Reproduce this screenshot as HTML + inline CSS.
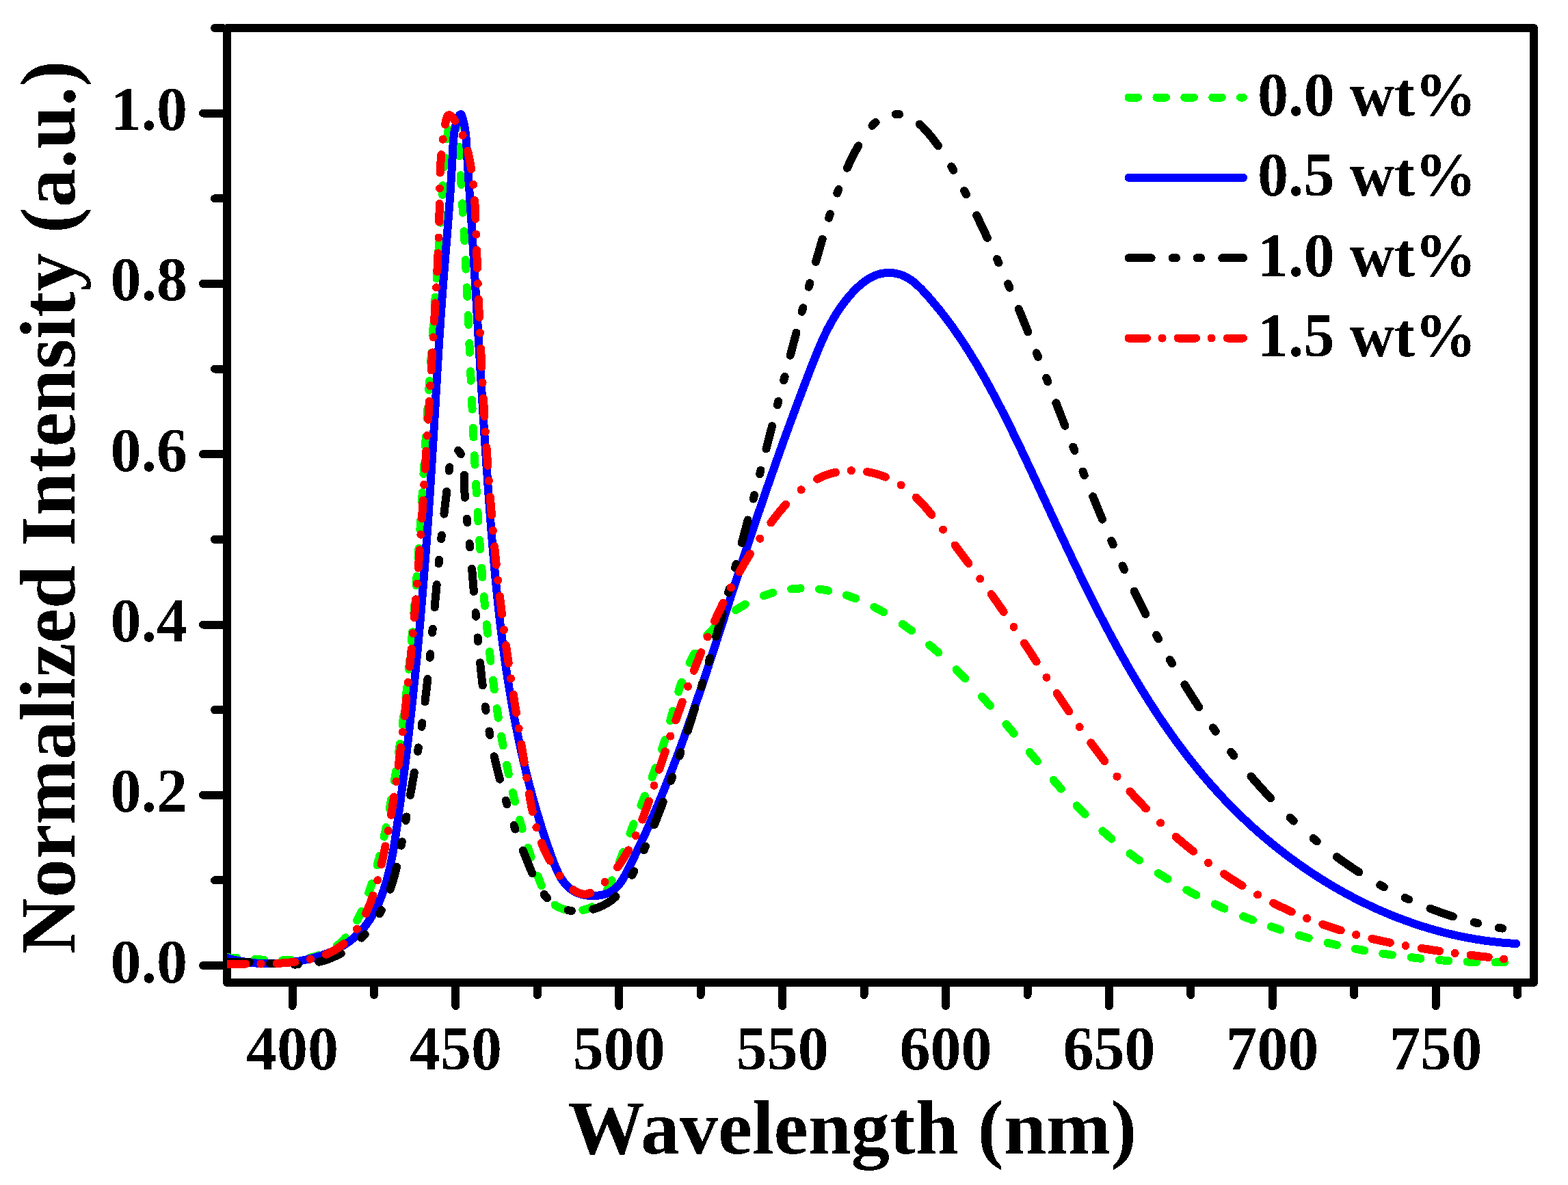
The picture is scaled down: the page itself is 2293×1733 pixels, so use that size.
<!DOCTYPE html>
<html><head><meta charset="utf-8"><title>Normalized Intensity vs Wavelength</title>
<style>html,body{margin:0;padding:0;background:#fff;width:2293px;height:1733px;overflow:hidden}svg{display:block}</style>
</head><body><svg width="2293" height="1733" viewBox="0 0 2293 1733" shape-rendering="crispEdges"><defs><filter id="bin" color-interpolation-filters="sRGB"><feComponentTransfer><feFuncA type="discrete" tableValues="0 1"/></feComponentTransfer></filter></defs><rect x="332.0" y="41.0" width="1911.0" height="1396.0" fill="none" stroke="#000" stroke-width="12" stroke-linejoin="round"/><path d="M326.0 1412.0H297 M326.0 1287.4H314 M326.0 1162.7H297 M326.0 1038.1H314 M326.0 913.5H297 M326.0 788.8H314 M326.0 664.2H297 M326.0 539.5H314 M326.0 414.9H297 M326.0 290.3H314 M326.0 165.6H297 M326.0 41.0H314 M427.6 1443V1471 M547.0 1443V1455 M666.4 1443V1471 M785.9 1443V1455 M905.3 1443V1471 M1024.7 1443V1455 M1144.2 1443V1471 M1263.6 1443V1455 M1383.0 1443V1471 M1502.5 1443V1455 M1621.9 1443V1471 M1741.4 1443V1455 M1860.8 1443V1471 M1980.2 1443V1455 M2099.7 1443V1471 M2219.1 1443V1455" stroke="#000" stroke-width="12" stroke-linecap="round" fill="none"/><g filter="url(#bin)" font-family="Liberation Serif, serif" font-weight="bold" font-size="90"><text x="274" y="1436.5" text-anchor="end">0.0</text><text x="274" y="1187.2" text-anchor="end">0.2</text><text x="274" y="938.0" text-anchor="end">0.4</text><text x="274" y="688.7" text-anchor="end">0.6</text><text x="274" y="439.4" text-anchor="end">0.8</text><text x="274" y="190.1" text-anchor="end">1.0</text><text x="427.6" y="1564" text-anchor="middle">400</text><text x="666.4" y="1564" text-anchor="middle">450</text><text x="905.3" y="1564" text-anchor="middle">500</text><text x="1144.2" y="1564" text-anchor="middle">550</text><text x="1383.0" y="1564" text-anchor="middle">600</text><text x="1621.9" y="1564" text-anchor="middle">650</text><text x="1860.8" y="1564" text-anchor="middle">700</text><text x="2099.7" y="1564" text-anchor="middle">750</text></g><text filter="url(#bin)" x="1246.2" y="1686.7" text-anchor="middle" font-family="Liberation Serif, serif" font-weight="bold" font-size="113">Wavelength (nm)</text><g filter="url(#bin)"><text transform="translate(109 741.8) rotate(-90)" x="0" y="0" text-anchor="middle" font-family="Liberation Serif, serif" font-weight="bold" font-size="113.6">Normalized Intensity (a.u.)</text></g><defs><clipPath id="pc"><rect x="332.0" y="0" width="1911.0" height="1437"/></clipPath></defs><g clip-path="url(#pc)"><path d="M332.9 1400.3L333.9 1400.4L334.9 1400.4L335.9 1400.5L336.9 1400.5L337.9 1400.6L338.9 1400.6L339.9 1400.7L340.9 1400.7L341.9 1400.8L342.9 1400.8L343.9 1400.9L344.9 1400.9L345.9 1401.0L346.2 1401.0M372.9 1402.9L373.8 1403.0L374.8 1403.0L375.8 1403.1L376.8 1403.2L377.8 1403.2L378.8 1403.3L379.8 1403.4L380.8 1403.4L381.8 1403.5L382.8 1403.5L383.8 1403.6L384.8 1403.7L385.8 1403.7L386.1 1403.7M412.8 1404.4L413.8 1404.4L414.8 1404.4L415.8 1404.4L416.8 1404.4L417.8 1404.3L418.8 1404.3L419.8 1404.3L420.8 1404.3L421.8 1404.2L422.7 1404.2L423.7 1404.1L424.7 1404.1L425.7 1404.0L426.1 1404.0M452.8 1400.7L453.5 1400.5L454.5 1400.3L455.4 1400.1L456.4 1399.9L457.4 1399.6L458.4 1399.4L459.3 1399.1L460.3 1398.9L461.3 1398.6L462.2 1398.3L463.2 1398.0L464.1 1397.8L465.1 1397.5L466.0 1397.1L466.1 1397.1M492.7 1383.2L493.3 1382.7L494.1 1382.1L494.8 1381.5L495.6 1380.8L496.4 1380.2L497.1 1379.5L497.8 1378.8L498.6 1378.1L499.3 1377.4L500.0 1376.7L500.7 1376.0L501.4 1375.3L502.1 1374.6L502.8 1373.9L503.5 1373.1L504.1 1372.4L504.8 1371.7L505.1 1371.3M522.1 1346.1L522.1 1346.0L522.6 1345.1L523.1 1344.3L523.5 1343.4L524.0 1342.5L524.4 1341.6L524.9 1340.7L525.3 1339.8L525.8 1338.9L526.2 1338.0L526.6 1337.1L527.0 1336.2L527.5 1335.3L527.9 1334.4L528.3 1333.5L528.5 1333.0M539.2 1305.7L539.3 1305.5L539.6 1304.6L539.9 1303.7L540.2 1302.7L540.6 1301.8L540.9 1300.8L541.2 1299.9L541.5 1298.9L541.8 1298.0L542.1 1297.0L542.5 1296.1L542.8 1295.1L543.1 1294.2L543.4 1293.2L543.7 1292.3L543.7 1292.2M551.6 1265.3L551.9 1264.4L552.1 1263.5L552.4 1262.5L552.6 1261.5L552.9 1260.6L553.2 1259.6L553.4 1258.6L553.7 1257.7L553.9 1256.7L554.2 1255.7L554.4 1254.8L554.7 1253.8L554.9 1252.8L555.2 1251.9L555.2 1251.7M561.7 1223.7L561.7 1223.6L561.9 1222.6L562.1 1221.7L562.4 1220.7L562.6 1219.7L562.8 1218.7L563.0 1217.8L563.2 1216.8L563.4 1215.8L563.6 1214.8L563.8 1213.8L564.0 1212.9L564.2 1211.9L564.4 1210.9L564.6 1210.0M569.8 1182.7L569.8 1182.4L570.0 1181.4L570.2 1180.4L570.4 1179.5L570.6 1178.5L570.7 1177.5L570.9 1176.5L571.1 1175.5L571.3 1174.5L571.4 1173.6L571.6 1172.6L571.8 1171.6L572.0 1170.6L572.1 1169.6L572.2 1169.2M576.8 1141.9L576.9 1141.0L577.1 1140.0L577.3 1139.0L577.4 1138.1L577.6 1137.1L577.7 1136.1L577.9 1135.1L578.0 1134.1L578.2 1133.1L578.4 1132.1L578.5 1131.1L578.7 1130.2L578.8 1129.2L578.9 1128.4M583.0 1101.1L583.1 1100.5L583.3 1099.5L583.4 1098.5L583.5 1097.5L583.7 1096.5L583.8 1095.5L584.0 1094.5L584.1 1093.6L584.2 1092.6L584.4 1091.6L584.5 1090.6L584.7 1089.6L584.8 1088.6L584.9 1087.6L584.9 1087.6M588.6 1060.3L588.6 1059.9L588.8 1058.9L588.9 1057.9L589.0 1056.9L589.1 1055.9L589.3 1054.9L589.4 1053.9L589.5 1052.9L589.6 1051.9L589.8 1050.9L589.9 1049.9L590.0 1048.9L590.1 1048.0L590.3 1047.0L590.3 1046.7M593.5 1019.5L593.6 1019.2L593.7 1018.2L593.8 1017.2L593.9 1016.2L594.0 1015.2L594.1 1014.2L594.2 1013.2L594.3 1012.2L594.5 1011.2L594.6 1010.2L594.7 1009.2L594.8 1008.2L594.9 1007.2L595.0 1006.2L595.0 1005.9M597.9 978.7L598.0 978.4L598.1 977.4L598.2 976.4L598.3 975.4L598.4 974.4L598.5 973.4L598.6 972.4L598.7 971.4L598.8 970.4L598.9 969.4L599.0 968.4L599.1 967.5L599.1 966.5L599.2 965.5L599.3 965.1M601.9 937.9L601.9 937.6L602.0 936.6L602.1 935.6L602.2 934.6L602.2 933.6L602.3 932.6L602.4 931.6L602.5 930.6L602.6 929.6L602.7 928.6L602.8 927.6L602.9 926.6L603.0 925.6L603.0 924.6L603.1 924.3M605.4 897.1L605.4 896.7L605.5 895.7L605.6 894.7L605.7 893.7L605.8 892.8L605.8 891.8L605.9 890.8L606.0 889.8L606.1 888.8L606.2 887.8L606.2 886.8L606.3 885.8L606.4 884.8L606.5 883.8L606.5 883.5M608.6 856.2L608.6 855.9L608.7 854.9L608.8 853.9L608.9 852.9L608.9 851.9L609.0 850.9L609.1 849.9L609.2 848.9L609.2 847.9L609.3 846.9L609.4 845.9L609.4 844.9L609.5 843.9L609.6 842.9L609.6 842.7M611.5 815.4L611.6 815.0L611.6 814.0L611.7 813.0L611.8 812.0L611.9 811.0L611.9 810.0L612.0 809.0L612.1 808.0L612.1 807.0L612.2 806.0L612.3 805.0L612.3 804.0L612.4 803.0L612.5 802.0L612.5 801.9M614.3 774.6L614.3 774.1L614.4 773.1L614.5 772.1L614.5 771.1L614.6 770.1L614.6 769.1L614.7 768.1L614.8 767.1L614.8 766.1L614.9 765.1L615.0 764.1L615.0 763.1L615.1 762.1L615.2 761.1L615.2 761.0M616.9 733.8L616.9 733.1L617.0 732.1L617.1 731.1L617.1 730.2L617.2 729.2L617.2 728.2L617.3 727.2L617.4 726.2L617.4 725.2L617.5 724.2L617.5 723.2L617.6 722.2L617.7 721.2L617.7 720.2M619.4 693.0L619.5 692.2L619.5 691.2L619.6 690.2L619.6 689.2L619.7 688.2L619.8 687.2L619.8 686.2L619.9 685.2L619.9 684.2L620.0 683.2L620.1 682.2L620.1 681.2L620.2 680.2L620.2 679.4M621.9 652.2L622.0 651.3L622.0 650.3L622.1 649.3L622.2 648.3L622.2 647.3L622.3 646.3L622.4 645.3L622.4 644.3L622.5 643.3L622.5 642.3L622.6 641.3L622.7 640.3L622.7 639.3L622.8 638.6M624.5 611.4L624.6 610.4L624.6 609.4L624.7 608.4L624.8 607.4L624.8 606.4L624.9 605.4L624.9 604.4L625.0 603.4L625.1 602.4L625.1 601.4L625.2 600.4L625.3 599.4L625.3 598.4L625.4 597.8M627.2 570.6L627.2 570.5L627.2 569.5L627.3 568.5L627.4 567.5L627.5 566.5L627.5 565.5L627.6 564.5L627.7 563.5L627.7 562.5L627.8 561.5L627.9 560.5L627.9 559.5L628.0 558.5L628.1 557.5L628.1 557.0M630.0 529.7L630.0 529.6L630.0 528.6L630.1 527.6L630.2 526.6L630.3 525.6L630.3 524.6L630.4 523.6L630.5 522.6L630.5 521.6L630.6 520.6L630.7 519.6L630.7 518.6L630.8 517.6L630.9 516.6L630.9 516.2M632.8 488.9L632.8 488.7L632.9 487.7L633.0 486.7L633.0 485.7L633.1 484.7L633.2 483.7L633.2 482.7L633.3 481.7L633.4 480.7L633.5 479.7L633.5 478.7L633.6 477.7L633.7 476.7L633.7 475.7L633.8 475.4M635.7 448.1L635.7 447.8L635.8 446.8L635.8 445.8L635.9 444.8L636.0 443.8L636.1 442.8L636.1 441.8L636.2 440.8L636.3 439.8L636.3 438.8L636.4 437.8L636.5 436.8L636.5 435.8L636.6 434.8L636.6 434.5M638.5 407.3L638.6 406.9L638.6 405.9L638.7 404.9L638.8 403.9L638.8 402.9L638.9 401.9L639.0 400.9L639.0 399.9L639.1 398.9L639.2 397.9L639.3 396.9L639.3 395.9L639.4 394.9L639.5 393.9L639.5 393.7M641.4 366.5L641.4 366.0L641.5 365.0L641.5 364.0L641.6 363.0L641.7 362.0L641.7 361.0L641.8 360.0L641.9 359.0L641.9 358.0L642.0 357.0L642.1 356.0L642.1 355.0L642.2 354.0L642.3 353.0L642.3 352.9M644.1 325.7L644.2 325.1L644.2 324.1L644.3 323.1L644.4 322.1L644.5 321.1L644.5 320.1L644.6 319.1L644.7 318.1L644.7 317.1L644.8 316.1L644.9 315.1L644.9 314.1L645.0 313.1L645.1 312.1M646.9 284.9L646.9 284.1L647.0 283.2L647.1 282.2L647.1 281.2L647.2 280.2L647.3 279.2L647.3 278.2L647.4 277.2L647.5 276.2L647.5 275.2L647.6 274.2L647.7 273.2L647.7 272.2L647.8 271.3M649.7 244.0L649.7 243.2L649.8 242.2L649.9 241.3L650.0 240.3L650.1 239.3L650.1 238.3L650.2 237.3L650.3 236.3L650.4 235.3L650.5 234.3L650.6 233.3L650.7 232.3L650.7 231.3L650.8 230.5M653.8 203.2L653.9 202.5L654.0 201.5L654.2 200.5L654.3 199.5L654.4 198.5L654.6 197.5L654.7 196.5L654.9 195.5L655.0 194.5L655.1 193.5L655.3 192.6L655.4 191.6L655.6 190.6L655.7 189.7M664.9 173.7L665.0 173.8L665.3 174.8L665.6 175.7L665.8 176.7L666.1 177.7L666.3 178.6L666.5 179.6L666.8 180.6L667.0 181.6L667.1 182.6L667.3 183.5L667.5 184.5L667.7 185.5L667.8 186.5L667.9 187.3M670.8 214.5L670.8 215.3L670.9 216.3L671.0 217.3L671.0 218.3L671.1 219.3L671.2 220.3L671.3 221.3L671.3 222.3L671.4 223.3L671.5 224.3L671.5 225.3L671.6 226.3L671.7 227.3L671.7 228.3M673.6 256.3L673.7 257.2L673.7 258.2L673.8 259.2L673.8 260.2L673.9 261.2L674.0 262.2L674.0 263.2L674.1 264.2L674.2 265.2L674.2 266.2L674.3 267.2L674.3 268.2L674.4 269.2L674.5 270.0M676.1 297.4L676.2 298.2L676.2 299.2L676.3 300.2L676.4 301.2L676.4 302.2L676.5 303.2L676.5 304.2L676.6 305.2L676.7 306.2L676.7 307.2L676.8 308.2L676.8 309.1L676.9 310.1L676.9 311.0M678.5 338.3L678.6 339.1L678.6 340.1L678.7 341.1L678.7 342.1L678.8 343.1L678.8 344.1L678.9 345.1L678.9 346.1L679.0 347.1L679.0 348.1L679.1 349.1L679.2 350.1L679.2 351.1L679.3 352.1M680.7 380.1L680.8 381.0L680.8 382.0L680.9 383.0L680.9 384.0L681.0 385.0L681.0 386.0L681.1 387.0L681.1 388.0L681.2 389.0L681.2 390.0L681.3 391.0L681.3 392.0L681.4 393.0L681.4 393.7M682.7 420.3L682.7 421.0L682.8 422.0L682.8 423.0L682.9 424.0L682.9 425.0L683.0 426.0L683.0 427.0L683.0 428.0L683.1 429.0L683.1 430.0L683.2 431.0L683.2 432.0L683.3 433.0L683.3 433.8M684.6 461.1L684.6 462.0L684.6 462.9L684.7 463.9L684.7 464.9L684.8 465.9L684.8 466.9L684.9 467.9L684.9 468.9L684.9 469.9L685.0 470.9L685.0 471.9L685.1 472.9L685.1 473.9L685.2 474.8M686.4 502.1L686.4 502.9L686.4 503.9L686.5 504.9L686.5 505.9L686.6 506.9L686.6 507.9L686.7 508.9L686.7 509.9L686.7 510.9L686.8 511.9L686.8 512.9L686.9 513.9L686.9 514.9L686.9 515.7M688.1 543.1L688.2 543.9L688.2 544.9L688.3 545.9L688.3 546.9L688.3 547.9L688.4 548.9L688.4 549.9L688.5 550.9L688.5 551.9L688.6 552.9L688.6 553.9L688.6 554.9L688.7 555.9L688.7 556.8M690.0 584.8L690.0 585.8L690.1 586.8L690.1 587.8L690.1 588.8L690.2 589.8L690.2 590.8L690.3 591.8L690.3 592.8L690.4 593.8L690.4 594.8L690.5 595.8L690.5 596.8L690.6 597.8L690.6 598.6M691.9 626.0L691.9 626.8L691.9 627.8L692.0 628.8L692.0 629.8L692.1 630.8L692.1 631.8L692.2 632.8L692.2 633.8L692.3 634.8L692.3 635.8L692.4 636.8L692.4 637.8L692.5 638.8L692.5 639.4M693.8 666.1L693.9 666.7L693.9 667.7L694.0 668.7L694.0 669.7L694.1 670.7L694.1 671.7L694.2 672.7L694.2 673.7L694.3 674.7L694.3 675.7L694.4 676.7L694.4 677.7L694.5 678.7L694.5 679.7M696.1 707.7L696.1 708.7L696.2 709.7L696.2 710.7L696.3 711.7L696.3 712.7L696.4 713.7L696.5 714.7L696.5 715.7L696.6 716.7L696.6 717.7L696.7 718.7L696.7 719.7L696.8 720.7L696.8 721.5M698.5 748.8L698.5 749.6L698.6 750.6L698.7 751.6L698.7 752.6L698.8 753.6L698.9 754.6L698.9 755.6L699.0 756.6L699.1 757.6L699.1 758.6L699.2 759.6L699.2 760.6L699.3 761.6L699.4 762.4M701.2 789.7L701.3 790.5L701.3 791.5L701.4 792.5L701.5 793.5L701.5 794.5L701.6 795.5L701.7 796.5L701.8 797.5L701.8 798.5L701.9 799.5L702.0 800.5L702.0 801.5L702.1 802.5L702.2 803.3M704.3 830.6L704.3 831.4L704.4 832.4L704.5 833.4L704.6 834.4L704.6 835.4L704.7 836.4L704.8 837.4L704.9 838.4L705.0 839.4L705.0 840.4L705.1 841.4L705.2 842.4L705.3 843.4L705.4 844.3M707.8 872.3L707.9 873.3L707.9 874.2L708.0 875.2L708.1 876.2L708.2 877.2L708.3 878.2L708.4 879.2L708.5 880.2L708.6 881.2L708.7 882.2L708.8 883.2L708.9 884.2L709.0 885.2L709.0 886.0M711.7 913.3L711.8 914.1L711.9 915.1L712.0 916.1L712.1 917.1L712.2 918.0L712.3 919.0L712.4 920.0L712.5 921.0L712.6 922.0L712.7 923.0L712.8 924.0L712.9 925.0L713.0 926.0L713.1 926.6M716.0 953.2L716.0 953.8L716.1 954.8L716.3 955.8L716.4 956.8L716.5 957.8L716.6 958.8L716.7 959.8L716.8 960.8L716.9 961.8L717.1 962.8L717.2 963.8L717.3 964.8L717.4 965.8L717.5 966.7M721.0 994.6L721.1 995.5L721.2 996.5L721.3 997.5L721.5 998.5L721.6 999.5L721.7 1000.5L721.9 1001.5L722.0 1002.5L722.1 1003.5L722.2 1004.5L722.4 1005.4L722.5 1006.4L722.6 1007.4L722.8 1008.4M726.7 1036.2L726.8 1037.1L727.0 1038.1L727.1 1039.1L727.3 1040.1L727.4 1041.1L727.6 1042.1L727.7 1043.1L727.9 1044.1L728.0 1045.0L728.2 1046.0L728.3 1047.0L728.5 1048.0L728.7 1049.0L728.8 1049.8M733.2 1076.8L733.3 1077.6L733.5 1078.6L733.7 1079.6L733.9 1080.6L734.0 1081.6L734.2 1082.5L734.4 1083.5L734.6 1084.5L734.7 1085.5L734.9 1086.5L735.1 1087.5L735.3 1088.4L735.4 1089.4L735.6 1090.4L735.6 1090.5M741.0 1118.7L741.1 1118.9L741.3 1119.9L741.5 1120.9L741.7 1121.8L741.9 1122.8L742.1 1123.8L742.3 1124.8L742.5 1125.8L742.7 1126.7L742.9 1127.7L743.1 1128.7L743.3 1129.7L743.5 1130.7L743.7 1131.6L743.9 1132.4M749.8 1159.1L750.0 1159.9L750.3 1160.9L750.5 1161.9L750.7 1162.8L751.0 1163.8L751.2 1164.8L751.4 1165.8L751.7 1166.7L751.9 1167.7L752.1 1168.7L752.4 1169.6L752.6 1170.6L752.9 1171.6L753.0 1172.4M760.0 1198.8L760.2 1199.7L760.4 1200.6L760.7 1201.6L761.0 1202.5L761.2 1203.5L761.5 1204.5L761.8 1205.4L762.1 1206.4L762.3 1207.4L762.6 1208.3L762.9 1209.3L763.2 1210.2L763.4 1211.2L763.7 1212.2L763.7 1212.3M772.1 1239.7L772.1 1239.9L772.5 1240.9L772.8 1241.8L773.1 1242.8L773.4 1243.7L773.7 1244.7L774.0 1245.6L774.3 1246.6L774.6 1247.5L774.9 1248.5L775.3 1249.4L775.6 1250.4L775.9 1251.3L776.2 1252.3L776.5 1253.2L776.6 1253.5M786.4 1281.1L786.6 1281.5L786.9 1282.4L787.3 1283.3L787.6 1284.3L788.0 1285.2L788.3 1286.1L788.7 1287.1L789.1 1288.0L789.4 1288.9L789.8 1289.9L790.1 1290.8L790.5 1291.7L790.9 1292.7L791.2 1293.6L791.6 1294.5L791.9 1295.2M811.6 1323.5L811.8 1323.7L812.6 1324.3L813.5 1324.8L814.3 1325.3L815.2 1325.8L816.1 1326.3L817.0 1326.7L817.9 1327.2L818.8 1327.6L819.7 1327.9L820.6 1328.3L821.6 1328.6L822.5 1329.0L823.5 1329.3L824.4 1329.6L825.4 1329.8L825.5 1329.8M852.3 1330.9L853.2 1330.7L854.1 1330.5L855.1 1330.3L856.1 1330.1L857.0 1329.8L858.0 1329.5L859.0 1329.2L859.9 1328.9L860.8 1328.5L861.8 1328.2L862.7 1327.8L863.6 1327.4L864.5 1326.9L865.4 1326.5L865.8 1326.2M888.1 1301.1L888.3 1300.7L888.8 1299.9L889.3 1299.0L889.7 1298.1L890.1 1297.2L890.6 1296.3L891.0 1295.4L891.5 1294.5L891.9 1293.6L892.3 1292.7L892.7 1291.8L893.1 1290.9L893.5 1289.9L894.0 1289.0L894.4 1288.1L894.7 1287.4M906.0 1259.9L906.2 1259.5L906.5 1258.5L906.9 1257.6L907.3 1256.7L907.6 1255.7L908.0 1254.8L908.3 1253.9L908.7 1252.9L909.0 1252.0L909.4 1251.1L909.7 1250.1L910.1 1249.2L910.4 1248.2L910.8 1247.3L911.1 1246.4L911.2 1246.2M921.4 1218.8L921.6 1218.2L921.9 1217.3L922.3 1216.4L922.6 1215.4L923.0 1214.5L923.3 1213.6L923.7 1212.6L924.0 1211.7L924.4 1210.8L924.7 1209.8L925.1 1208.9L925.5 1207.9L925.8 1207.0L926.2 1206.1L926.5 1205.1L926.6 1205.1M937.4 1177.6L937.5 1177.2L937.9 1176.3L938.3 1175.4L938.6 1174.5L939.0 1173.5L939.4 1172.6L939.8 1171.7L940.1 1170.7L940.5 1169.8L940.9 1168.9L941.3 1168.0L941.6 1167.0L942.0 1166.1L942.4 1165.2L942.7 1164.2L942.9 1163.9M953.6 1136.6L953.7 1136.3L954.1 1135.4L954.4 1134.5L954.8 1133.5L955.1 1132.6L955.5 1131.6L955.8 1130.7L956.2 1129.8L956.5 1128.8L956.9 1127.9L957.2 1127.0L957.6 1126.0L957.9 1125.1L958.3 1124.2L958.6 1123.2L958.7 1123.0M968.0 1095.9L968.1 1095.8L968.4 1094.8L968.7 1093.9L969.0 1092.9L969.3 1092.0L969.6 1091.0L969.9 1090.1L970.2 1089.1L970.5 1088.2L970.8 1087.2L971.0 1086.2L971.3 1085.3L971.6 1084.3L971.9 1083.4L972.2 1082.4L972.3 1082.1M980.1 1053.8L980.2 1053.5L980.5 1052.5L980.7 1051.6L981.0 1050.6L981.3 1049.7L981.5 1048.7L981.8 1047.7L982.1 1046.8L982.3 1045.8L982.6 1044.8L982.8 1043.9L983.1 1042.9L983.4 1041.9L983.6 1041.0L983.9 1040.0L984.0 1039.7M992.2 1011.6L992.3 1011.2L992.6 1010.2L992.9 1009.3L993.2 1008.3L993.5 1007.4L993.8 1006.4L994.1 1005.5L994.4 1004.5L994.8 1003.6L995.1 1002.6L995.4 1001.7L995.7 1000.8L996.0 999.8L996.4 998.9L996.7 997.9L996.9 997.5M1008.5 969.2L1008.9 968.4L1009.3 967.5L1009.8 966.6L1010.2 965.7L1010.7 964.8L1011.1 963.9L1011.6 963.0L1012.1 962.1L1012.5 961.2L1013.0 960.3L1013.5 959.5L1014.0 958.6L1014.4 957.7L1014.9 956.8L1015.4 956.0L1015.7 955.6M1033.9 929.5L1034.3 929.0L1035.0 928.2L1035.6 927.5L1036.3 926.7L1036.9 926.0L1037.6 925.2L1038.3 924.5L1039.0 923.7L1039.6 923.0L1040.3 922.3L1041.0 921.5L1041.7 920.8L1042.4 920.1L1043.1 919.4L1043.8 918.7L1044.5 917.9L1045.2 917.2L1045.9 916.5L1046.6 915.8L1046.7 915.7M1075.8 892.4L1076.2 892.1L1077.1 891.5L1077.9 891.0L1078.7 890.5L1079.6 889.9L1080.4 889.4L1081.3 888.9L1082.1 888.3L1083.0 887.8L1083.8 887.3L1084.7 886.8L1085.6 886.3L1086.4 885.8L1087.3 885.3L1088.2 884.8L1089.0 884.3L1089.7 883.9M1116.9 871.3L1117.1 871.3L1118.1 870.9L1119.0 870.6L1119.9 870.2L1120.9 869.9L1121.8 869.6L1122.8 869.3L1123.7 868.9L1124.7 868.6L1125.6 868.3L1126.6 868.0L1127.5 867.7L1128.5 867.4L1129.5 867.2L1130.4 866.9M1157.1 861.5L1157.8 861.4L1158.8 861.3L1159.8 861.2L1160.8 861.1L1161.8 861.0L1162.8 860.9L1163.8 860.8L1164.8 860.8L1165.8 860.7L1166.8 860.6L1167.8 860.6L1168.8 860.5L1169.8 860.5L1170.6 860.4M1197.9 861.6L1198.7 861.7L1199.7 861.8L1200.7 862.0L1201.7 862.1L1202.7 862.2L1203.7 862.4L1204.7 862.5L1205.7 862.7L1206.7 862.9L1207.6 863.0L1208.6 863.2L1209.6 863.4L1210.6 863.6L1211.3 863.7M1237.7 870.5L1238.6 870.8L1239.6 871.2L1240.5 871.5L1241.5 871.8L1242.4 872.1L1243.4 872.5L1244.3 872.8L1245.3 873.1L1246.2 873.5L1247.1 873.8L1248.1 874.2L1249.0 874.5L1249.9 874.9L1250.9 875.2L1251.1 875.3M1278.4 887.7L1279.1 888.1L1280.0 888.5L1280.8 889.0L1281.7 889.5L1282.6 889.9L1283.5 890.4L1284.4 890.9L1285.3 891.4L1286.1 891.8L1287.0 892.3L1287.9 892.8L1288.8 893.3L1289.6 893.8L1290.5 894.3L1291.4 894.8L1292.1 895.2M1319.7 912.7L1320.1 913.0L1320.9 913.5L1321.7 914.1L1322.5 914.7L1323.3 915.3L1324.2 915.9L1325.0 916.4L1325.8 917.0L1326.6 917.6L1327.4 918.2L1328.2 918.8L1329.0 919.4L1329.8 919.9L1330.6 920.5L1331.5 921.1L1332.3 921.7L1333.1 922.3L1333.1 922.4M1359.2 943.2L1359.6 943.5L1360.4 944.2L1361.2 944.8L1361.9 945.5L1362.7 946.1L1363.4 946.8L1364.2 947.4L1364.9 948.1L1365.7 948.7L1366.5 949.4L1367.2 950.0L1368.0 950.7L1368.7 951.4L1369.5 952.0L1370.2 952.7L1371.0 953.4L1371.7 954.0L1372.2 954.5M1398.5 979.3L1398.6 979.4L1399.3 980.1L1400.0 980.8L1400.8 981.5L1401.5 982.2L1402.2 982.9L1402.9 983.6L1403.6 984.3L1404.3 985.1L1405.0 985.8L1405.7 986.5L1406.4 987.2L1407.1 987.9L1407.8 988.6L1408.5 989.3L1409.2 990.0L1409.9 990.8L1410.6 991.5L1411.3 992.2L1411.4 992.3M1436.0 1018.7L1436.5 1019.3L1437.2 1020.0L1437.8 1020.7L1438.5 1021.5L1439.2 1022.2L1439.9 1023.0L1440.5 1023.7L1441.2 1024.5L1441.9 1025.2L1442.5 1026.0L1443.2 1026.7L1443.8 1027.5L1444.5 1028.2L1445.2 1029.0L1445.8 1029.7L1446.5 1030.5L1447.2 1031.2L1447.8 1032.0L1447.9 1032.0M1471.4 1059.3L1472.0 1060.0L1472.6 1060.7L1473.3 1061.5L1473.9 1062.3L1474.6 1063.0L1475.2 1063.8L1475.9 1064.6L1476.5 1065.3L1477.2 1066.1L1477.8 1066.8L1478.4 1067.6L1479.1 1068.4L1479.7 1069.1L1480.4 1069.9L1481.0 1070.7L1481.7 1071.4L1482.3 1072.2L1482.8 1072.8M1505.6 1099.9L1506.1 1100.5L1506.7 1101.3L1507.4 1102.1L1508.0 1102.8L1508.7 1103.6L1509.3 1104.4L1510.0 1105.1L1510.6 1105.9L1511.2 1106.7L1511.9 1107.4L1512.5 1108.2L1513.2 1109.0L1513.8 1109.7L1514.5 1110.5L1515.1 1111.2L1515.8 1112.0L1516.4 1112.8L1517.0 1113.5M1540.5 1140.8L1540.5 1140.9L1541.2 1141.6L1541.8 1142.4L1542.5 1143.1L1543.1 1143.9L1543.8 1144.6L1544.5 1145.4L1545.1 1146.1L1545.8 1146.9L1546.4 1147.6L1547.1 1148.4L1547.8 1149.1L1548.4 1149.8L1549.1 1150.6L1549.8 1151.3L1550.4 1152.1L1551.1 1152.8L1551.8 1153.6L1551.9 1153.7M1574.5 1178.2L1574.8 1178.5L1575.5 1179.3L1576.2 1180.0L1576.9 1180.7L1577.6 1181.4L1578.3 1182.1L1579.0 1182.9L1579.7 1183.6L1580.4 1184.3L1581.1 1185.0L1581.8 1185.7L1582.5 1186.4L1583.2 1187.2L1583.9 1187.9L1584.6 1188.6L1585.3 1189.3L1586.0 1190.0L1586.7 1190.7M1612.4 1215.2L1612.8 1215.5L1613.5 1216.2L1614.3 1216.9L1615.0 1217.5L1615.8 1218.2L1616.5 1218.9L1617.3 1219.5L1618.0 1220.2L1618.8 1220.9L1619.5 1221.5L1620.3 1222.2L1621.0 1222.8L1621.8 1223.5L1622.5 1224.1L1623.3 1224.8L1624.0 1225.4L1624.8 1226.1L1625.5 1226.7M1652.5 1248.4L1652.9 1248.6L1653.7 1249.2L1654.5 1249.8L1655.3 1250.4L1656.1 1251.0L1656.9 1251.6L1657.7 1252.2L1658.5 1252.8L1659.3 1253.4L1660.1 1254.0L1660.9 1254.6L1661.7 1255.2L1662.5 1255.8L1663.3 1256.4L1664.1 1256.9L1664.9 1257.5L1665.8 1258.1L1666.2 1258.4M1693.8 1277.1L1693.9 1277.1L1694.8 1277.7L1695.6 1278.2L1696.5 1278.7L1697.3 1279.3L1698.2 1279.8L1699.0 1280.3L1699.9 1280.9L1700.7 1281.4L1701.5 1281.9L1702.4 1282.5L1703.3 1283.0L1704.1 1283.5L1705.0 1284.0L1705.8 1284.5L1706.7 1285.1L1707.5 1285.6L1707.6 1285.6M1735.4 1301.6L1736.2 1302.0L1737.0 1302.5L1737.9 1302.9L1738.8 1303.4L1739.7 1303.9L1740.6 1304.4L1741.4 1304.8L1742.3 1305.3L1743.2 1305.8L1744.1 1306.2L1745.0 1306.7L1745.9 1307.1L1746.8 1307.6L1747.6 1308.1L1748.5 1308.5L1749.2 1308.9M1776.8 1322.4L1777.3 1322.6L1778.2 1323.0L1779.1 1323.4L1780.0 1323.9L1780.9 1324.3L1781.8 1324.7L1782.7 1325.1L1783.6 1325.5L1784.5 1325.9L1785.4 1326.3L1786.4 1326.8L1787.3 1327.2L1788.2 1327.6L1789.1 1328.0L1790.0 1328.4L1790.5 1328.6M1818.2 1340.2L1818.6 1340.4L1819.5 1340.7L1820.5 1341.1L1821.4 1341.5L1822.3 1341.8L1823.3 1342.2L1824.2 1342.6L1825.1 1342.9L1826.1 1343.3L1827.0 1343.6L1827.9 1344.0L1828.9 1344.3L1829.8 1344.7L1830.7 1345.1L1831.7 1345.4L1831.9 1345.5M1858.9 1355.1L1859.0 1355.2L1859.9 1355.5L1860.9 1355.8L1861.8 1356.1L1862.8 1356.5L1863.7 1356.8L1864.7 1357.1L1865.6 1357.4L1866.6 1357.7L1867.5 1358.0L1868.5 1358.3L1869.4 1358.6L1870.4 1359.0L1871.3 1359.3L1872.3 1359.6L1872.4 1359.6M1899.9 1368.0L1900.0 1368.0L1901.0 1368.3L1901.9 1368.5L1902.9 1368.8L1903.9 1369.1L1904.8 1369.4L1905.8 1369.6L1906.7 1369.9L1907.7 1370.2L1908.7 1370.4L1909.6 1370.7L1910.6 1371.0L1911.6 1371.2L1912.5 1371.5L1913.5 1371.7L1913.7 1371.8M1941.5 1378.9L1941.6 1378.9L1942.6 1379.1L1943.5 1379.3L1944.5 1379.6L1945.5 1379.8L1946.5 1380.0L1947.4 1380.3L1948.4 1380.5L1949.4 1380.7L1950.4 1380.9L1951.3 1381.2L1952.3 1381.4L1953.3 1381.6L1954.3 1381.8L1955.1 1382.0M1981.9 1387.6L1982.7 1387.7L1983.6 1387.9L1984.6 1388.1L1985.6 1388.3L1986.6 1388.5L1987.6 1388.7L1988.5 1388.9L1989.5 1389.1L1990.5 1389.2L1991.5 1389.4L1992.5 1389.6L1993.5 1389.8L1994.4 1390.0L1995.3 1390.1M2022.3 1394.6L2023.0 1394.8L2024.0 1394.9L2025.0 1395.1L2026.0 1395.2L2027.0 1395.4L2028.0 1395.5L2029.0 1395.6L2030.0 1395.8L2031.0 1395.9L2032.0 1396.1L2032.9 1396.2L2033.9 1396.4L2034.9 1396.5L2035.9 1396.6M2063.7 1400.2L2064.7 1400.3L2065.7 1400.4L2066.7 1400.5L2067.7 1400.6L2068.7 1400.7L2069.6 1400.9L2070.6 1401.0L2071.6 1401.1L2072.6 1401.2L2073.6 1401.3L2074.6 1401.4L2075.6 1401.5L2076.6 1401.6L2077.4 1401.7M2104.7 1404.1L2105.5 1404.2L2106.5 1404.2L2107.5 1404.3L2108.5 1404.4L2109.5 1404.5L2110.5 1404.5L2111.5 1404.6L2112.5 1404.7L2113.5 1404.7L2114.5 1404.8L2115.5 1404.9L2116.5 1404.9L2117.5 1405.0L2118.3 1405.1M2145.6 1406.5L2146.4 1406.5L2147.4 1406.6L2148.4 1406.6L2149.4 1406.6L2150.4 1406.7L2151.4 1406.7L2152.4 1406.7L2153.4 1406.8L2154.4 1406.8L2155.4 1406.8L2156.4 1406.9L2157.4 1406.9L2158.4 1406.9L2159.2 1406.9M2186.6 1407.4L2187.4 1407.4L2188.4 1407.4L2189.4 1407.4L2190.4 1407.4L2191.4 1407.4L2192.4 1407.4L2193.4 1407.4L2194.4 1407.4L2195.4 1407.3L2196.4 1407.3L2197.4 1407.3L2198.4 1407.3L2199.4 1407.3L2200.2 1407.3" fill="none" stroke="#00ff00" stroke-width="12" stroke-linecap="round" stroke-linejoin="round"/><path d="M333.0 1401.2L334.9 1401.8L336.8 1402.3L338.8 1402.9L340.7 1403.3L342.6 1403.8L344.6 1404.2L346.5 1404.7L348.5 1405.1L350.5 1405.4L352.4 1405.8L354.4 1406.1L356.4 1406.4L358.4 1406.7L360.3 1407.0L362.3 1407.3L364.3 1407.5L366.3 1407.7L368.3 1407.9L370.3 1408.1L372.3 1408.3L374.3 1408.5L376.3 1408.6L378.3 1408.7L380.3 1408.8L382.3 1408.9L384.2 1409.0L386.2 1409.1L388.2 1409.1L390.2 1409.2L392.2 1409.2L394.2 1409.2L396.2 1409.2L398.2 1409.1L400.2 1409.1L402.2 1409.0L404.2 1408.9L406.2 1408.9L408.2 1408.8L410.2 1408.6L412.2 1408.5L414.2 1408.3L416.2 1408.2L418.2 1408.0L420.2 1407.8L422.2 1407.6L424.2 1407.4L426.2 1407.1L428.1 1406.9L430.1 1406.6L432.1 1406.3L434.1 1406.0L436.1 1405.7L438.0 1405.4L440.0 1405.0L442.0 1404.6L443.9 1404.3L445.9 1403.9L447.8 1403.4L449.8 1403.0L451.7 1402.6L453.7 1402.1L455.6 1401.6L457.6 1401.1L459.5 1400.6L461.4 1400.0L463.3 1399.5L465.3 1398.9L467.2 1398.3L469.1 1397.7L471.0 1397.1L472.9 1396.4L474.7 1395.7L476.6 1395.0L478.5 1394.3L480.3 1393.6L482.2 1392.8L484.0 1392.0L485.9 1391.2L487.7 1390.4L489.5 1389.5L491.3 1388.7L493.1 1387.8L494.8 1386.8L496.6 1385.9L498.4 1384.9L500.1 1383.9L501.8 1382.9L503.5 1381.9L505.2 1380.8L506.9 1379.7L508.5 1378.5L510.1 1377.4L511.7 1376.2L513.3 1375.0L514.9 1373.7L516.4 1372.5L518.0 1371.2L519.5 1369.8L520.9 1368.5L522.4 1367.1L523.8 1365.7L525.2 1364.3L526.6 1362.9L528.0 1361.4L529.3 1359.9L530.6 1358.4L531.9 1356.9L533.2 1355.3L534.4 1353.7L535.6 1352.2L536.8 1350.6L538.0 1348.9L539.1 1347.3L540.3 1345.6L541.4 1344.0L542.4 1342.3L543.5 1340.6L544.5 1338.9L545.5 1337.1L546.5 1335.4L547.5 1333.6L548.4 1331.9L549.3 1330.1L550.2 1328.3L551.1 1326.5L552.0 1324.7L552.8 1322.9L553.6 1321.1L554.4 1319.2L555.2 1317.4L556.0 1315.5L556.7 1313.7L557.5 1311.8L558.2 1310.0L558.9 1308.1L559.6 1306.2L560.2 1304.3L560.9 1302.4L561.5 1300.5L562.1 1298.6L562.7 1296.7L563.3 1294.8L563.9 1292.9L564.5 1291.0L565.0 1289.1L565.6 1287.1L566.1 1285.2L566.6 1283.3L567.1 1281.4L567.6 1279.4L568.1 1277.5L568.6 1275.5L569.1 1273.6L569.5 1271.6L570.0 1269.7L570.4 1267.7L570.8 1265.8L571.3 1263.8L571.7 1261.9L572.1 1259.9L572.5 1258.0L572.9 1256.0L573.2 1254.0L573.6 1252.1L574.0 1250.1L574.3 1248.1L574.7 1246.2L575.0 1244.2L575.4 1242.2L575.7 1240.2L576.0 1238.3L576.4 1236.3L576.7 1234.3L577.0 1232.4L577.3 1230.4L577.6 1228.4L577.9 1226.4L578.2 1224.4L578.5 1222.5L578.8 1220.5L579.1 1218.5L579.4 1216.5L579.7 1214.6L580.0 1212.6L580.2 1210.6L580.5 1208.6L580.8 1206.6L581.1 1204.6L581.4 1202.7L581.6 1200.7L581.9 1198.7L582.2 1196.7L582.4 1194.7L582.7 1192.8L583.0 1190.8L583.3 1188.8L583.5 1186.8L583.8 1184.8L584.1 1182.9L584.3 1180.9L584.6 1178.9L584.9 1176.9L585.1 1174.9L585.4 1172.9L585.7 1171.0L585.9 1169.0L586.2 1167.0L586.4 1165.0L586.7 1163.0L587.0 1161.0L587.2 1159.1L587.5 1157.1L587.7 1155.1L588.0 1153.1L588.3 1151.1L588.5 1149.1L588.8 1147.2L589.0 1145.2L589.3 1143.2L589.5 1141.2L589.8 1139.2L590.0 1137.2L590.3 1135.3L590.5 1133.3L590.8 1131.3L591.0 1129.3L591.3 1127.3L591.5 1125.3L591.8 1123.4L592.0 1121.4L592.3 1119.4L592.5 1117.4L592.8 1115.4L593.0 1113.4L593.2 1111.4L593.5 1109.5L593.7 1107.5L594.0 1105.5L594.2 1103.5L594.5 1101.5L594.7 1099.5L594.9 1097.5L595.2 1095.6L595.4 1093.6L595.6 1091.6L595.9 1089.6L596.1 1087.6L596.3 1085.6L596.6 1083.6L596.8 1081.7L597.0 1079.7L597.3 1077.7L597.5 1075.7L597.7 1073.7L598.0 1071.7L598.2 1069.7L598.4 1067.7L598.6 1065.8L598.9 1063.8L599.1 1061.8L599.3 1059.8L599.5 1057.8L599.8 1055.8L600.0 1053.8L600.2 1051.8L600.4 1049.9L600.6 1047.9L600.9 1045.9L601.1 1043.9L601.3 1041.9L601.5 1039.9L601.7 1037.9L602.0 1035.9L602.2 1034.0L602.4 1032.0L602.6 1030.0L602.8 1028.0L603.0 1026.0L603.2 1024.0L603.5 1022.0L603.7 1020.0L603.9 1018.0L604.1 1016.1L604.3 1014.1L604.5 1012.1L604.7 1010.1L604.9 1008.1L605.1 1006.1L605.3 1004.1L605.5 1002.1L605.7 1000.1L605.9 998.2L606.2 996.2L606.4 994.2L606.6 992.2L606.8 990.2L607.0 988.2L607.2 986.2L607.4 984.2L607.6 982.2L607.8 980.2L608.0 978.3L608.1 976.3L608.3 974.3L608.5 972.3L608.7 970.3L608.9 968.3L609.1 966.3L609.3 964.3L609.5 962.3L609.7 960.3L609.9 958.3L610.1 956.4L610.3 954.4L610.5 952.4L610.7 950.4L610.8 948.4L611.0 946.4L611.2 944.4L611.4 942.4L611.6 940.4L611.8 938.4L612.0 936.4L612.1 934.5L612.3 932.5L612.5 930.5L612.7 928.5L612.9 926.5L613.0 924.5L613.2 922.5L613.4 920.5L613.6 918.5L613.8 916.5L613.9 914.5L614.1 912.5L614.3 910.6L614.5 908.6L614.6 906.6L614.8 904.6L615.0 902.6L615.2 900.6L615.3 898.6L615.5 896.6L615.7 894.6L615.9 892.6L616.0 890.6L616.2 888.6L616.4 886.6L616.5 884.6L616.7 882.7L616.9 880.7L617.0 878.7L617.2 876.7L617.4 874.7L617.5 872.7L617.7 870.7L617.9 868.7L618.0 866.7L618.2 864.7L618.4 862.7L618.5 860.7L618.7 858.7L618.9 856.7L619.0 854.7L619.2 852.8L619.3 850.8L619.5 848.8L619.7 846.8L619.8 844.8L620.0 842.8L620.1 840.8L620.3 838.8L620.4 836.8L620.6 834.8L620.8 832.8L620.9 830.8L621.1 828.8L621.2 826.8L621.4 824.8L621.5 822.8L621.7 820.9L621.8 818.9L622.0 816.9L622.1 814.9L622.3 812.9L622.4 810.9L622.6 808.9L622.7 806.9L622.9 804.9L623.0 802.9L623.2 800.9L623.3 798.9L623.5 796.9L623.6 794.9L623.8 792.9L623.9 790.9L624.1 788.9L624.2 786.9L624.3 785.0L624.5 783.0L624.6 781.0L624.8 779.0L624.9 777.0L625.1 775.0L625.2 773.0L625.3 771.0L625.5 769.0L625.6 767.0L625.8 765.0L625.9 763.0L626.0 761.0L626.2 759.0L626.3 757.0L626.5 755.0L626.6 753.0L626.7 751.0L626.9 749.0L627.0 747.0L627.1 745.1L627.3 743.1L627.4 741.1L627.5 739.1L627.7 737.1L627.8 735.1L627.9 733.1L628.1 731.1L628.2 729.1L628.3 727.1L628.5 725.1L628.6 723.1L628.7 721.1L628.9 719.1L629.0 717.1L629.1 715.1L629.3 713.1L629.4 711.1L629.5 709.1L629.7 707.1L629.8 705.1L629.9 703.1L630.0 701.1L630.2 699.2L630.3 697.2L630.4 695.2L630.5 693.2L630.7 691.2L630.8 689.2L630.9 687.2L631.0 685.2L631.2 683.2L631.3 681.2L631.4 679.2L631.5 677.2L631.7 675.2L631.8 673.2L631.9 671.2L632.0 669.2L632.2 667.2L632.3 665.2L632.4 663.2L632.5 661.2L632.7 659.2L632.8 657.2L632.9 655.2L633.0 653.2L633.1 651.2L633.3 649.2L633.4 647.3L633.5 645.3L633.6 643.3L633.7 641.3L633.9 639.3L634.0 637.3L634.1 635.3L634.2 633.3L634.3 631.3L634.5 629.3L634.6 627.3L634.7 625.3L634.8 623.3L634.9 621.3L635.0 619.3L635.2 617.3L635.3 615.3L635.4 613.3L635.5 611.3L635.6 609.3L635.8 607.3L635.9 605.3L636.0 603.3L636.1 601.3L636.2 599.3L636.3 597.3L636.5 595.3L636.6 593.3L636.7 591.3L636.8 589.4L636.9 587.4L637.0 585.4L637.2 583.4L637.3 581.4L637.4 579.4L637.5 577.4L637.6 575.4L637.7 573.4L637.9 571.4L638.0 569.4L638.1 567.4L638.2 565.4L638.3 563.4L638.4 561.4L638.6 559.4L638.7 557.4L638.8 555.4L638.9 553.4L639.0 551.4L639.1 549.4L639.3 547.4L639.4 545.4L639.5 543.4L639.6 541.4L639.7 539.4L639.9 537.4L640.0 535.4L640.1 533.4L640.2 531.5L640.3 529.5L640.5 527.5L640.6 525.5L640.7 523.5L640.8 521.5L640.9 519.5L641.1 517.5L641.2 515.5L641.3 513.5L641.4 511.5L641.5 509.5L641.7 507.5L641.8 505.5L641.9 503.5L642.0 501.5L642.2 499.5L642.3 497.5L642.4 495.5L642.5 493.5L642.7 491.5L642.8 489.5L642.9 487.5L643.1 485.5L643.2 483.5L643.3 481.5L643.5 479.6L643.6 477.6L643.7 475.6L643.8 473.6L644.0 471.6L644.1 469.6L644.2 467.6L644.4 465.6L644.5 463.6L644.7 461.6L644.8 459.6L644.9 457.6L645.1 455.6L645.2 453.6L645.4 451.6L645.5 449.6L645.6 447.6L645.8 445.6L645.9 443.6L646.1 441.6L646.2 439.6L646.4 437.7L646.5 435.7L646.7 433.7L646.8 431.7L646.9 429.7L647.1 427.7L647.3 425.7L647.4 423.7L647.6 421.7L647.7 419.7L647.9 417.7L648.0 415.7L648.2 413.7L648.3 411.7L648.5 409.7L648.6 407.7L648.8 405.7L649.0 403.8L649.1 401.8L649.3 399.8L649.4 397.8L649.6 395.8L649.7 393.8L649.9 391.8L650.1 389.8L650.2 387.8L650.4 385.8L650.6 383.8L650.7 381.8L650.9 379.8L651.0 377.8L651.2 375.8L651.4 373.8L651.5 371.9L651.7 369.9L651.8 367.9L652.0 365.9L652.2 363.9L652.3 361.9L652.5 359.9L652.6 357.9L652.8 355.9L653.0 353.9L653.1 351.9L653.3 349.9L653.5 347.9L653.6 345.9L653.8 343.9L653.9 342.0L654.1 340.0L654.3 338.0L654.4 336.0L654.6 334.0L654.7 332.0L654.9 330.0L655.0 328.0L655.2 326.0L655.4 324.0L655.5 322.0L655.7 320.0L655.8 318.0L656.0 316.0L656.1 314.0L656.3 312.0L656.4 310.1L656.6 308.1L656.7 306.1L656.9 304.1L657.0 302.1L657.2 300.1L657.3 298.1L657.5 296.1L657.6 294.1L657.8 292.1L657.9 290.1L658.0 288.1L658.2 286.1L658.3 284.1L658.5 282.1L658.6 280.1L658.7 278.1L658.9 276.1L659.0 274.1L659.1 272.1L659.3 270.2L659.4 268.2L659.5 266.2L659.7 264.2L659.8 262.2L659.9 260.2L660.0 258.2L660.2 256.2L660.3 254.2L660.4 252.2L660.5 250.2L660.6 248.2L660.8 246.2L660.9 244.2L661.0 242.2L661.1 240.2L661.2 238.2L661.3 236.2L661.4 234.2L661.5 232.2L661.6 230.2L661.7 228.2L661.8 226.2L661.9 224.2L662.0 222.2L662.1 220.2L662.2 218.2L662.3 216.2L662.4 214.2L662.5 212.2L662.7 210.2L662.8 208.3L662.9 206.3L663.1 204.3L663.3 202.3L663.5 200.3L663.7 198.3L664.0 196.3L664.2 194.3L664.5 192.4L664.9 190.4L665.3 188.4L665.7 186.5L666.1 184.5L666.6 182.6L667.2 180.7L667.8 178.7L668.4 176.8L669.1 175.0L669.8 173.1L670.6 171.3L671.4 169.4L672.4 167.7L674.1 167.1L675.1 168.7L675.8 170.6L676.4 172.5L677.0 174.4L677.5 176.4L678.0 178.3L678.4 180.3L678.8 182.2L679.2 184.2L679.6 186.1L679.9 188.1L680.2 190.1L680.5 192.1L680.8 194.1L681.0 196.0L681.2 198.0L681.4 200.0L681.6 202.0L681.7 204.0L681.9 206.0L682.0 208.0L682.2 210.0L682.3 212.0L682.4 214.0L682.5 216.0L682.6 218.0L682.8 220.0L682.9 222.0L683.0 224.0L683.1 226.0L683.2 228.0L683.3 230.0L683.4 232.0L683.5 234.0L683.7 236.0L683.8 237.9L683.9 239.9L684.0 241.9L684.1 243.9L684.3 245.9L684.4 247.9L684.5 249.9L684.6 251.9L684.8 253.9L684.9 255.9L685.0 257.9L685.1 259.9L685.3 261.9L685.4 263.9L685.5 265.9L685.7 267.9L685.8 269.9L685.9 271.9L686.1 273.9L686.2 275.9L686.3 277.9L686.5 279.9L686.6 281.9L686.7 283.9L686.9 285.9L687.0 287.8L687.1 289.8L687.3 291.8L687.4 293.8L687.5 295.8L687.6 297.8L687.8 299.8L687.9 301.8L688.0 303.8L688.2 305.8L688.3 307.8L688.4 309.8L688.6 311.8L688.7 313.8L688.8 315.8L689.0 317.8L689.1 319.8L689.2 321.8L689.3 323.8L689.5 325.8L689.6 327.8L689.7 329.8L689.8 331.8L690.0 333.7L690.1 335.7L690.2 337.7L690.4 339.7L690.5 341.7L690.6 343.7L690.7 345.7L690.9 347.7L691.0 349.7L691.1 351.7L691.2 353.7L691.4 355.7L691.5 357.7L691.6 359.7L691.7 361.7L691.9 363.7L692.0 365.7L692.1 367.7L692.2 369.7L692.3 371.7L692.5 373.7L692.6 375.7L692.7 377.7L692.8 379.7L693.0 381.7L693.1 383.7L693.2 385.6L693.3 387.6L693.4 389.6L693.6 391.6L693.7 393.6L693.8 395.6L693.9 397.6L694.1 399.6L694.2 401.6L694.3 403.6L694.4 405.6L694.5 407.6L694.7 409.6L694.8 411.6L694.9 413.6L695.0 415.6L695.1 417.6L695.3 419.6L695.4 421.6L695.5 423.6L695.6 425.6L695.7 427.6L695.9 429.6L696.0 431.6L696.1 433.6L696.2 435.6L696.3 437.6L696.5 439.6L696.6 441.5L696.7 443.5L696.8 445.5L696.9 447.5L697.0 449.5L697.2 451.5L697.3 453.5L697.4 455.5L697.5 457.5L697.6 459.5L697.8 461.5L697.9 463.5L698.0 465.5L698.1 467.5L698.2 469.5L698.4 471.5L698.5 473.5L698.6 475.5L698.7 477.5L698.8 479.5L699.0 481.5L699.1 483.5L699.2 485.5L699.3 487.5L699.4 489.5L699.5 491.5L699.7 493.5L699.8 495.5L699.9 497.4L700.0 499.4L700.1 501.4L700.3 503.4L700.4 505.4L700.5 507.4L700.6 509.4L700.7 511.4L700.9 513.4L701.0 515.4L701.1 517.4L701.2 519.4L701.3 521.4L701.5 523.4L701.6 525.4L701.7 527.4L701.8 529.4L701.9 531.4L702.1 533.4L702.2 535.4L702.3 537.4L702.4 539.4L702.5 541.4L702.7 543.4L702.8 545.4L702.9 547.4L703.0 549.4L703.1 551.4L703.3 553.3L703.4 555.3L703.5 557.3L703.6 559.3L703.8 561.3L703.9 563.3L704.0 565.3L704.1 567.3L704.2 569.3L704.4 571.3L704.5 573.3L704.6 575.3L704.7 577.3L704.9 579.3L705.0 581.3L705.1 583.3L705.2 585.3L705.4 587.3L705.5 589.3L705.6 591.3L705.7 593.3L705.9 595.3L706.0 597.3L706.1 599.3L706.2 601.3L706.4 603.3L706.5 605.2L706.6 607.2L706.7 609.2L706.9 611.2L707.0 613.2L707.1 615.2L707.3 617.2L707.4 619.2L707.5 621.2L707.6 623.2L707.8 625.2L707.9 627.2L708.0 629.2L708.2 631.2L708.3 633.2L708.4 635.2L708.5 637.2L708.7 639.2L708.8 641.2L708.9 643.2L709.1 645.2L709.2 647.2L709.3 649.2L709.5 651.2L709.6 653.1L709.7 655.1L709.9 657.1L710.0 659.1L710.1 661.1L710.3 663.1L710.4 665.1L710.5 667.1L710.7 669.1L710.8 671.1L710.9 673.1L711.1 675.1L711.2 677.1L711.3 679.1L711.5 681.1L711.6 683.1L711.8 685.1L711.9 687.1L712.0 689.1L712.2 691.1L712.3 693.1L712.5 695.0L712.6 697.0L712.7 699.0L712.9 701.0L713.0 703.0L713.2 705.0L713.3 707.0L713.4 709.0L713.6 711.0L713.7 713.0L713.9 715.0L714.0 717.0L714.2 719.0L714.3 721.0L714.4 723.0L714.6 725.0L714.7 727.0L714.9 729.0L715.0 731.0L715.2 733.0L715.3 734.9L715.5 736.9L715.6 738.9L715.8 740.9L715.9 742.9L716.1 744.9L716.2 746.9L716.4 748.9L716.5 750.9L716.7 752.9L716.8 754.9L717.0 756.9L717.1 758.9L717.3 760.9L717.4 762.9L717.6 764.9L717.8 766.9L717.9 768.8L718.1 770.8L718.2 772.8L718.4 774.8L718.5 776.8L718.7 778.8L718.9 780.8L719.0 782.8L719.2 784.8L719.3 786.8L719.5 788.8L719.7 790.8L719.8 792.8L720.0 794.8L720.2 796.8L720.3 798.7L720.5 800.7L720.7 802.7L720.8 804.7L721.0 806.7L721.2 808.7L721.4 810.7L721.5 812.7L721.7 814.7L721.9 816.7L722.0 818.7L722.2 820.7L722.4 822.7L722.6 824.7L722.8 826.6L722.9 828.6L723.1 830.6L723.3 832.6L723.5 834.6L723.7 836.6L723.9 838.6L724.0 840.6L724.2 842.6L724.4 844.6L724.6 846.6L724.8 848.5L725.0 850.5L725.2 852.5L725.4 854.5L725.6 856.5L725.8 858.5L726.0 860.5L726.2 862.5L726.4 864.5L726.6 866.5L726.8 868.5L727.0 870.4L727.2 872.4L727.4 874.4L727.6 876.4L727.8 878.4L728.0 880.4L728.2 882.4L728.4 884.4L728.6 886.4L728.9 888.3L729.1 890.3L729.3 892.3L729.5 894.3L729.7 896.3L730.0 898.3L730.2 900.3L730.4 902.3L730.6 904.2L730.9 906.2L731.1 908.2L731.3 910.2L731.5 912.2L731.8 914.2L732.0 916.2L732.3 918.1L732.5 920.1L732.7 922.1L733.0 924.1L733.2 926.1L733.5 928.1L733.7 930.1L734.0 932.0L734.2 934.0L734.5 936.0L734.7 938.0L735.0 940.0L735.2 942.0L735.5 943.9L735.7 945.9L736.0 947.9L736.3 949.9L736.5 951.9L736.8 953.9L737.1 955.8L737.3 957.8L737.6 959.8L737.9 961.8L738.2 963.8L738.4 965.7L738.7 967.7L739.0 969.7L739.3 971.7L739.6 973.7L739.9 975.6L740.2 977.6L740.4 979.6L740.7 981.6L741.0 983.6L741.3 985.5L741.6 987.5L741.9 989.5L742.2 991.5L742.5 993.4L742.9 995.4L743.2 997.4L743.5 999.4L743.8 1001.3L744.1 1003.3L744.4 1005.3L744.7 1007.3L745.1 1009.2L745.4 1011.2L745.7 1013.2L746.0 1015.2L746.4 1017.1L746.7 1019.1L747.0 1021.1L747.4 1023.1L747.7 1025.0L748.1 1027.0L748.4 1029.0L748.8 1030.9L749.1 1032.9L749.5 1034.9L749.8 1036.8L750.2 1038.8L750.5 1040.8L750.9 1042.7L751.2 1044.7L751.6 1046.7L752.0 1048.6L752.3 1050.6L752.7 1052.6L753.1 1054.5L753.5 1056.5L753.9 1058.5L754.2 1060.4L754.6 1062.4L755.0 1064.4L755.4 1066.3L755.8 1068.3L756.2 1070.2L756.6 1072.2L757.0 1074.2L757.4 1076.1L757.8 1078.1L758.2 1080.0L758.6 1082.0L759.0 1083.9L759.4 1085.9L759.8 1087.9L760.3 1089.8L760.7 1091.8L761.1 1093.7L761.5 1095.7L762.0 1097.6L762.4 1099.6L762.8 1101.5L763.3 1103.5L763.7 1105.4L764.2 1107.4L764.6 1109.3L765.1 1111.3L765.5 1113.2L766.0 1115.2L766.4 1117.1L766.9 1119.1L767.4 1121.0L767.8 1123.0L768.3 1124.9L768.8 1126.9L769.2 1128.8L769.7 1130.7L770.2 1132.7L770.7 1134.6L771.2 1136.6L771.7 1138.5L772.2 1140.4L772.7 1142.4L773.2 1144.3L773.7 1146.2L774.2 1148.2L774.7 1150.1L775.2 1152.0L775.7 1154.0L776.2 1155.9L776.7 1157.8L777.2 1159.8L777.8 1161.7L778.3 1163.6L778.8 1165.6L779.4 1167.5L779.9 1169.4L780.4 1171.3L781.0 1173.3L781.5 1175.2L782.1 1177.1L782.6 1179.0L783.2 1181.0L783.8 1182.9L784.3 1184.8L784.9 1186.7L785.5 1188.6L786.0 1190.5L786.6 1192.5L787.2 1194.4L787.8 1196.3L788.3 1198.2L788.9 1200.1L789.5 1202.0L790.1 1203.9L790.7 1205.8L791.3 1207.8L791.9 1209.7L792.5 1211.6L793.1 1213.5L793.8 1215.4L794.4 1217.3L795.0 1219.2L795.6 1221.1L796.2 1223.0L796.9 1224.9L797.5 1226.8L798.2 1228.7L798.8 1230.6L799.4 1232.5L800.1 1234.3L800.7 1236.2L801.4 1238.1L802.0 1240.0L802.7 1241.9L803.4 1243.8L804.0 1245.7L804.7 1247.6L805.4 1249.4L806.1 1251.3L806.7 1253.2L807.4 1255.1L808.1 1257.0L808.8 1258.8L809.5 1260.7L810.2 1262.6L811.0 1264.4L811.7 1266.3L812.5 1268.1L813.3 1270.0L814.1 1271.8L814.9 1273.6L815.7 1275.4L816.6 1277.2L817.5 1279.0L818.5 1280.8L819.5 1282.5L820.5 1284.2L821.6 1285.9L822.7 1287.6L823.9 1289.2L825.1 1290.8L826.3 1292.4L827.6 1293.9L829.0 1295.3L830.4 1296.7L831.9 1298.1L833.4 1299.4L835.0 1300.6L836.6 1301.7L838.3 1302.8L840.1 1303.8L841.8 1304.8L843.6 1305.6L845.5 1306.4L847.4 1307.1L849.3 1307.7L851.2 1308.2L853.1 1308.7L855.1 1309.0L857.1 1309.4L859.1 1309.6L861.1 1309.8L863.0 1310.0L865.0 1310.1L867.0 1310.1L869.0 1310.0L871.0 1310.0L873.0 1309.8L875.0 1309.6L877.0 1309.3L879.0 1309.0L880.9 1308.6L882.9 1308.1L884.8 1307.5L886.7 1306.9L888.6 1306.2L890.4 1305.4L892.2 1304.5L893.9 1303.5L895.6 1302.4L897.2 1301.3L898.8 1300.0L900.3 1298.7L901.8 1297.4L903.2 1295.9L904.5 1294.4L905.8 1292.9L907.0 1291.3L908.2 1289.7L909.3 1288.0L910.4 1286.4L911.4 1284.7L912.5 1282.9L913.4 1281.2L914.4 1279.4L915.4 1277.7L916.3 1275.9L917.2 1274.1L918.1 1272.3L919.0 1270.6L919.9 1268.8L920.8 1267.0L921.6 1265.2L922.5 1263.4L923.4 1261.6L924.3 1259.8L925.2 1258.0L926.1 1256.2L926.9 1254.4L927.8 1252.6L928.7 1250.8L929.5 1249.0L930.4 1247.2L931.3 1245.4L932.1 1243.6L933.0 1241.8L933.9 1240.0L934.7 1238.2L935.6 1236.4L936.4 1234.6L937.3 1232.7L938.1 1230.9L939.0 1229.1L939.8 1227.3L940.6 1225.5L941.5 1223.7L942.3 1221.9L943.1 1220.0L944.0 1218.2L944.8 1216.4L945.6 1214.6L946.5 1212.8L947.3 1210.9L948.1 1209.1L948.9 1207.3L949.7 1205.5L950.5 1203.6L951.3 1201.8L952.1 1200.0L952.9 1198.1L953.8 1196.3L954.5 1194.5L955.3 1192.6L956.1 1190.8L956.9 1189.0L957.7 1187.1L958.5 1185.3L959.3 1183.4L960.1 1181.6L960.9 1179.8L961.6 1177.9L962.4 1176.1L963.2 1174.2L964.0 1172.4L964.7 1170.5L965.5 1168.7L966.3 1166.8L967.0 1165.0L967.8 1163.1L968.5 1161.3L969.3 1159.4L970.0 1157.6L970.8 1155.7L971.6 1153.9L972.3 1152.0L973.0 1150.2L973.8 1148.3L974.5 1146.5L975.3 1144.6L976.0 1142.7L976.7 1140.9L977.5 1139.0L978.2 1137.2L978.9 1135.3L979.7 1133.4L980.4 1131.6L981.1 1129.7L981.8 1127.8L982.6 1126.0L983.3 1124.1L984.0 1122.2L984.7 1120.4L985.4 1118.5L986.1 1116.6L986.9 1114.8L987.6 1112.9L988.3 1111.0L989.0 1109.2L989.7 1107.3L990.4 1105.4L991.1 1103.5L991.8 1101.7L992.5 1099.8L993.2 1097.9L993.9 1096.0L994.6 1094.2L995.3 1092.3L995.9 1090.4L996.6 1088.5L997.3 1086.7L998.0 1084.8L998.7 1082.9L999.4 1081.0L1000.0 1079.1L1000.7 1077.3L1001.4 1075.4L1002.1 1073.5L1002.8 1071.6L1003.4 1069.7L1004.1 1067.8L1004.8 1066.0L1005.4 1064.1L1006.1 1062.2L1006.8 1060.3L1007.4 1058.4L1008.1 1056.5L1008.8 1054.6L1009.4 1052.8L1010.1 1050.9L1010.7 1049.0L1011.4 1047.1L1012.1 1045.2L1012.7 1043.3L1013.4 1041.4L1014.0 1039.5L1014.7 1037.6L1015.3 1035.7L1016.0 1033.9L1016.6 1032.0L1017.3 1030.1L1017.9 1028.2L1018.6 1026.3L1019.2 1024.4L1019.8 1022.5L1020.5 1020.6L1021.1 1018.7L1021.8 1016.8L1022.4 1014.9L1023.1 1013.0L1023.7 1011.1L1024.3 1009.2L1025.0 1007.3L1025.6 1005.4L1026.2 1003.5L1026.9 1001.7L1027.5 999.8L1028.1 997.9L1028.8 996.0L1029.4 994.1L1030.0 992.2L1030.7 990.3L1031.3 988.4L1031.9 986.5L1032.5 984.6L1033.2 982.7L1033.8 980.8L1034.4 978.9L1035.0 977.0L1035.7 975.1L1036.3 973.2L1036.9 971.3L1037.5 969.4L1038.2 967.5L1038.8 965.6L1039.4 963.7L1040.0 961.8L1040.6 959.9L1041.3 958.0L1041.9 956.1L1042.5 954.2L1043.1 952.3L1043.7 950.4L1044.3 948.4L1045.0 946.5L1045.6 944.6L1046.2 942.7L1046.8 940.8L1047.4 938.9L1048.0 937.0L1048.7 935.1L1049.3 933.2L1049.9 931.3L1050.5 929.4L1051.1 927.5L1051.7 925.6L1052.3 923.7L1052.9 921.8L1053.6 919.9L1054.2 918.0L1054.8 916.1L1055.4 914.2L1056.0 912.3L1056.6 910.4L1057.2 908.5L1057.9 906.6L1058.5 904.7L1059.1 902.8L1059.7 900.9L1060.3 899.0L1060.9 897.1L1061.5 895.1L1062.1 893.2L1062.8 891.3L1063.4 889.4L1064.0 887.5L1064.6 885.6L1065.2 883.7L1065.8 881.8L1066.4 879.9L1067.0 878.0L1067.7 876.1L1068.3 874.2L1068.9 872.3L1069.5 870.4L1070.1 868.5L1070.7 866.6L1071.3 864.7L1072.0 862.8L1072.6 860.9L1073.2 859.0L1073.8 857.1L1074.4 855.2L1075.0 853.3L1075.7 851.4L1076.3 849.5L1076.9 847.6L1077.5 845.7L1078.1 843.8L1078.8 841.9L1079.4 840.0L1080.0 838.1L1080.6 836.2L1081.2 834.3L1081.9 832.4L1082.5 830.5L1083.1 828.6L1083.7 826.7L1084.4 824.8L1085.0 822.9L1085.6 821.0L1086.2 819.1L1086.9 817.2L1087.5 815.3L1088.1 813.4L1088.7 811.5L1089.4 809.6L1090.0 807.7L1090.6 805.8L1091.2 803.9L1091.9 802.0L1092.5 800.1L1093.1 798.2L1093.8 796.3L1094.4 794.4L1095.0 792.5L1095.7 790.6L1096.3 788.7L1096.9 786.8L1097.6 784.9L1098.2 783.0L1098.8 781.1L1099.5 779.2L1100.1 777.3L1100.7 775.4L1101.4 773.5L1102.0 771.6L1102.6 769.7L1103.3 767.8L1103.9 765.9L1104.6 764.0L1105.2 762.1L1105.8 760.2L1106.5 758.3L1107.1 756.4L1107.8 754.6L1108.4 752.7L1109.0 750.8L1109.7 748.9L1110.3 747.0L1111.0 745.1L1111.6 743.2L1112.3 741.3L1112.9 739.4L1113.5 737.5L1114.2 735.6L1114.8 733.7L1115.5 731.8L1116.1 729.9L1116.8 728.1L1117.4 726.2L1118.1 724.3L1118.7 722.4L1119.4 720.5L1120.0 718.6L1120.7 716.7L1121.3 714.8L1122.0 712.9L1122.7 711.0L1123.3 709.1L1124.0 707.3L1124.6 705.4L1125.3 703.5L1125.9 701.6L1126.6 699.7L1127.3 697.8L1127.9 695.9L1128.6 694.0L1129.2 692.1L1129.9 690.3L1130.6 688.4L1131.2 686.5L1131.9 684.6L1132.5 682.7L1133.2 680.8L1133.9 678.9L1134.5 677.1L1135.2 675.2L1135.9 673.3L1136.5 671.4L1137.2 669.5L1137.9 667.6L1138.5 665.7L1139.2 663.9L1139.9 662.0L1140.6 660.1L1141.2 658.2L1141.9 656.3L1142.6 654.4L1143.3 652.6L1143.9 650.7L1144.6 648.8L1145.3 646.9L1146.0 645.0L1146.6 643.1L1147.3 641.3L1148.0 639.4L1148.7 637.5L1149.4 635.6L1150.0 633.7L1150.7 631.9L1151.4 630.0L1152.1 628.1L1152.8 626.2L1153.5 624.3L1154.2 622.5L1154.8 620.6L1155.5 618.7L1156.2 616.8L1156.9 615.0L1157.6 613.1L1158.3 611.2L1159.0 609.3L1159.7 607.5L1160.4 605.6L1161.1 603.7L1161.8 601.8L1162.4 600.0L1163.1 598.1L1163.8 596.2L1164.5 594.3L1165.2 592.5L1165.9 590.6L1166.6 588.7L1167.3 586.8L1168.0 585.0L1168.7 583.1L1169.4 581.2L1170.2 579.3L1170.9 577.5L1171.6 575.6L1172.3 573.7L1173.0 571.9L1173.7 570.0L1174.4 568.1L1175.1 566.2L1175.8 564.4L1176.5 562.5L1177.2 560.6L1178.0 558.8L1178.7 556.9L1179.4 555.0L1180.1 553.2L1180.8 551.3L1181.5 549.4L1182.3 547.6L1183.0 545.7L1183.7 543.8L1184.4 542.0L1185.1 540.1L1185.9 538.2L1186.6 536.4L1187.3 534.5L1188.0 532.7L1188.8 530.8L1189.5 528.9L1190.2 527.1L1191.0 525.2L1191.7 523.4L1192.5 521.5L1193.2 519.6L1194.0 517.8L1194.7 515.9L1195.5 514.1L1196.2 512.2L1197.0 510.4L1197.8 508.5L1198.6 506.7L1199.3 504.9L1200.1 503.0L1200.9 501.2L1201.8 499.4L1202.6 497.5L1203.4 495.7L1204.2 493.9L1205.1 492.1L1205.9 490.3L1206.8 488.5L1207.7 486.7L1208.5 484.9L1209.4 483.1L1210.3 481.3L1211.2 479.5L1212.2 477.8L1213.1 476.0L1214.0 474.2L1215.0 472.5L1216.0 470.7L1217.0 469.0L1217.9 467.2L1219.0 465.5L1220.0 463.8L1221.0 462.1L1222.1 460.4L1223.1 458.7L1224.2 457.0L1225.3 455.3L1226.4 453.6L1227.5 452.0L1228.6 450.3L1229.8 448.7L1230.9 447.1L1232.1 445.5L1233.3 443.8L1234.5 442.3L1235.7 440.7L1237.0 439.1L1238.2 437.5L1239.5 436.0L1240.8 434.5L1242.1 432.9L1243.4 431.4L1244.7 429.9L1246.1 428.4L1247.4 427.0L1248.8 425.5L1250.2 424.1L1251.6 422.7L1253.0 421.3L1254.5 419.9L1256.0 418.6L1257.4 417.2L1259.0 415.9L1260.5 414.6L1262.1 413.4L1263.7 412.2L1265.3 411.0L1266.9 409.9L1268.6 408.8L1270.3 407.7L1272.0 406.7L1273.8 405.7L1275.5 404.8L1277.3 404.0L1279.2 403.2L1281.0 402.4L1282.9 401.7L1284.8 401.1L1286.8 400.6L1288.7 400.1L1290.7 399.8L1292.6 399.5L1294.6 399.2L1296.6 399.1L1298.6 399.0L1300.6 399.0L1302.6 399.0L1304.6 399.2L1306.6 399.4L1308.6 399.7L1310.5 400.0L1312.5 400.5L1314.4 400.9L1316.4 401.5L1318.3 402.1L1320.1 402.9L1322.0 403.6L1323.8 404.5L1325.6 405.4L1327.3 406.4L1329.0 407.4L1330.7 408.5L1332.4 409.6L1334.0 410.8L1335.6 412.0L1337.1 413.3L1338.6 414.5L1340.2 415.9L1341.6 417.2L1343.1 418.6L1344.5 420.0L1345.9 421.4L1347.4 422.8L1348.7 424.2L1350.1 425.7L1351.5 427.2L1352.8 428.6L1354.2 430.1L1355.5 431.6L1356.8 433.1L1358.2 434.6L1359.5 436.1L1360.8 437.6L1362.1 439.1L1363.4 440.6L1364.7 442.2L1366.0 443.7L1367.3 445.2L1368.5 446.8L1369.8 448.3L1371.1 449.9L1372.3 451.4L1373.6 453.0L1374.9 454.5L1376.1 456.1L1377.3 457.7L1378.6 459.2L1379.8 460.8L1381.0 462.4L1382.2 464.0L1383.5 465.6L1384.7 467.2L1385.9 468.8L1387.1 470.4L1388.2 472.0L1389.4 473.6L1390.6 475.2L1391.8 476.8L1393.0 478.4L1394.1 480.1L1395.3 481.7L1396.4 483.3L1397.6 485.0L1398.7 486.6L1399.9 488.3L1401.0 489.9L1402.1 491.6L1403.3 493.2L1404.4 494.9L1405.5 496.5L1406.6 498.2L1407.7 499.9L1408.8 501.5L1409.9 503.2L1411.0 504.9L1412.1 506.6L1413.2 508.2L1414.2 509.9L1415.3 511.6L1416.4 513.3L1417.4 515.0L1418.5 516.7L1419.6 518.4L1420.6 520.1L1421.7 521.8L1422.7 523.5L1423.7 525.2L1424.8 526.9L1425.8 528.6L1426.8 530.3L1427.9 532.1L1428.9 533.8L1429.9 535.5L1430.9 537.2L1431.9 539.0L1432.9 540.7L1433.9 542.4L1434.9 544.1L1435.9 545.9L1436.9 547.6L1437.9 549.4L1438.9 551.1L1439.9 552.8L1440.8 554.6L1441.8 556.3L1442.8 558.1L1443.8 559.8L1444.7 561.6L1445.7 563.3L1446.6 565.1L1447.6 566.8L1448.6 568.6L1449.5 570.4L1450.5 572.1L1451.4 573.9L1452.3 575.6L1453.3 577.4L1454.2 579.2L1455.2 580.9L1456.1 582.7L1457.0 584.5L1458.0 586.3L1458.9 588.0L1459.8 589.8L1460.7 591.6L1461.6 593.4L1462.6 595.1L1463.5 596.9L1464.4 598.7L1465.3 600.5L1466.2 602.3L1467.1 604.0L1468.0 605.8L1468.9 607.6L1469.8 609.4L1470.7 611.2L1471.6 613.0L1472.5 614.8L1473.4 616.6L1474.3 618.3L1475.2 620.1L1476.1 621.9L1476.9 623.7L1477.8 625.5L1478.7 627.3L1479.6 629.1L1480.5 630.9L1481.3 632.7L1482.2 634.5L1483.1 636.3L1484.0 638.1L1484.8 639.9L1485.7 641.7L1486.6 643.5L1487.4 645.3L1488.3 647.1L1489.2 648.9L1490.0 650.7L1490.9 652.5L1491.8 654.3L1492.6 656.1L1493.5 657.9L1494.3 659.7L1495.2 661.6L1496.0 663.4L1496.9 665.2L1497.8 667.0L1498.6 668.8L1499.5 670.6L1500.3 672.4L1501.2 674.2L1502.0 676.0L1502.9 677.8L1503.7 679.6L1504.6 681.5L1505.4 683.3L1506.3 685.1L1507.1 686.9L1508.0 688.7L1508.8 690.5L1509.7 692.3L1510.5 694.1L1511.3 695.9L1512.2 697.8L1513.0 699.6L1513.9 701.4L1514.7 703.2L1515.6 705.0L1516.4 706.8L1517.3 708.6L1518.1 710.4L1518.9 712.3L1519.8 714.1L1520.6 715.9L1521.5 717.7L1522.3 719.5L1523.2 721.3L1524.0 723.1L1524.8 725.0L1525.7 726.8L1526.5 728.6L1527.4 730.4L1528.2 732.2L1529.1 734.0L1529.9 735.8L1530.7 737.7L1531.6 739.5L1532.4 741.3L1533.3 743.1L1534.1 744.9L1535.0 746.7L1535.8 748.5L1536.6 750.4L1537.5 752.2L1538.3 754.0L1539.2 755.8L1540.0 757.6L1540.9 759.4L1541.7 761.2L1542.5 763.0L1543.4 764.9L1544.2 766.7L1545.1 768.5L1545.9 770.3L1546.8 772.1L1547.6 773.9L1548.5 775.7L1549.3 777.5L1550.2 779.4L1551.0 781.2L1551.9 783.0L1552.7 784.8L1553.6 786.6L1554.4 788.4L1555.3 790.2L1556.1 792.0L1557.0 793.8L1557.8 795.6L1558.7 797.5L1559.5 799.3L1560.4 801.1L1561.2 802.9L1562.1 804.7L1562.9 806.5L1563.8 808.3L1564.7 810.1L1565.5 811.9L1566.4 813.7L1567.2 815.5L1568.1 817.3L1569.0 819.1L1569.8 820.9L1570.7 822.7L1571.6 824.5L1572.4 826.4L1573.3 828.2L1574.2 830.0L1575.0 831.8L1575.9 833.6L1576.8 835.4L1577.6 837.2L1578.5 839.0L1579.4 840.8L1580.2 842.6L1581.1 844.4L1582.0 846.2L1582.9 848.0L1583.8 849.7L1584.6 851.5L1585.5 853.3L1586.4 855.1L1587.3 856.9L1588.2 858.7L1589.0 860.5L1589.9 862.3L1590.8 864.1L1591.7 865.9L1592.6 867.7L1593.5 869.5L1594.4 871.3L1595.3 873.1L1596.2 874.8L1597.1 876.6L1598.0 878.4L1598.9 880.2L1599.8 882.0L1600.7 883.8L1601.6 885.6L1602.5 887.3L1603.4 889.1L1604.3 890.9L1605.2 892.7L1606.1 894.5L1607.0 896.3L1607.9 898.0L1608.8 899.8L1609.8 901.6L1610.7 903.4L1611.6 905.1L1612.5 906.9L1613.5 908.7L1614.4 910.5L1615.3 912.2L1616.2 914.0L1617.2 915.8L1618.1 917.5L1619.0 919.3L1620.0 921.1L1620.9 922.8L1621.8 924.6L1622.8 926.4L1623.7 928.1L1624.7 929.9L1625.6 931.7L1626.6 933.4L1627.5 935.2L1628.5 936.9L1629.4 938.7L1630.4 940.5L1631.3 942.2L1632.3 944.0L1633.3 945.7L1634.2 947.5L1635.2 949.2L1636.1 951.0L1637.1 952.7L1638.1 954.5L1639.1 956.2L1640.0 958.0L1641.0 959.7L1642.0 961.5L1643.0 963.2L1644.0 964.9L1645.0 966.7L1645.9 968.4L1646.9 970.2L1647.9 971.9L1648.9 973.6L1649.9 975.4L1650.9 977.1L1651.9 978.8L1652.9 980.6L1653.9 982.3L1654.9 984.0L1656.0 985.7L1657.0 987.5L1658.0 989.2L1659.0 990.9L1660.0 992.6L1661.1 994.3L1662.1 996.1L1663.1 997.8L1664.1 999.5L1665.2 1001.2L1666.2 1002.9L1667.3 1004.6L1668.3 1006.3L1669.3 1008.0L1670.4 1009.7L1671.4 1011.4L1672.5 1013.1L1673.5 1014.8L1674.6 1016.5L1675.7 1018.2L1676.7 1019.9L1677.8 1021.6L1678.9 1023.3L1679.9 1025.0L1681.0 1026.7L1682.1 1028.4L1683.2 1030.0L1684.2 1031.7L1685.3 1033.4L1686.4 1035.1L1687.5 1036.8L1688.6 1038.4L1689.7 1040.1L1690.8 1041.8L1691.9 1043.5L1693.0 1045.1L1694.1 1046.8L1695.2 1048.4L1696.3 1050.1L1697.4 1051.8L1698.6 1053.4L1699.7 1055.1L1700.8 1056.7L1701.9 1058.4L1703.1 1060.0L1704.2 1061.7L1705.3 1063.3L1706.5 1065.0L1707.6 1066.6L1708.8 1068.2L1709.9 1069.9L1711.1 1071.5L1712.2 1073.1L1713.4 1074.8L1714.6 1076.4L1715.7 1078.0L1716.9 1079.7L1718.1 1081.3L1719.2 1082.9L1720.4 1084.5L1721.6 1086.1L1722.8 1087.7L1724.0 1089.3L1725.2 1090.9L1726.4 1092.5L1727.6 1094.1L1728.8 1095.7L1730.0 1097.3L1731.2 1098.9L1732.4 1100.5L1733.6 1102.1L1734.8 1103.7L1736.1 1105.3L1737.3 1106.9L1738.5 1108.4L1739.7 1110.0L1741.0 1111.6L1742.2 1113.2L1743.5 1114.7L1744.7 1116.3L1746.0 1117.9L1747.2 1119.4L1748.5 1121.0L1749.7 1122.5L1751.0 1124.1L1752.3 1125.6L1753.5 1127.2L1754.8 1128.7L1756.1 1130.2L1757.4 1131.8L1758.6 1133.3L1759.9 1134.8L1761.2 1136.4L1762.5 1137.9L1763.8 1139.4L1765.1 1140.9L1766.4 1142.4L1767.7 1143.9L1769.1 1145.5L1770.4 1147.0L1771.7 1148.5L1773.0 1150.0L1774.4 1151.5L1775.7 1152.9L1777.0 1154.4L1778.4 1155.9L1779.7 1157.4L1781.1 1158.9L1782.4 1160.3L1783.8 1161.8L1785.1 1163.3L1786.5 1164.7L1787.9 1166.2L1789.2 1167.7L1790.6 1169.1L1792.0 1170.6L1793.4 1172.0L1794.7 1173.5L1796.1 1174.9L1797.5 1176.3L1798.9 1177.8L1800.3 1179.2L1801.7 1180.6L1803.1 1182.0L1804.5 1183.5L1806.0 1184.9L1807.4 1186.3L1808.8 1187.7L1810.2 1189.1L1811.7 1190.5L1813.1 1191.9L1814.5 1193.3L1816.0 1194.7L1817.4 1196.0L1818.9 1197.4L1820.3 1198.8L1821.8 1200.2L1823.2 1201.5L1824.7 1202.9L1826.2 1204.3L1827.6 1205.6L1829.1 1207.0L1830.6 1208.3L1832.1 1209.7L1833.5 1211.0L1835.0 1212.3L1836.5 1213.7L1838.0 1215.0L1839.5 1216.3L1841.0 1217.6L1842.5 1218.9L1844.0 1220.3L1845.6 1221.6L1847.1 1222.9L1848.6 1224.2L1850.1 1225.5L1851.7 1226.7L1853.2 1228.0L1854.7 1229.3L1856.3 1230.6L1857.8 1231.9L1859.3 1233.1L1860.9 1234.4L1862.4 1235.7L1864.0 1236.9L1865.6 1238.2L1867.1 1239.4L1868.7 1240.7L1870.3 1241.9L1871.8 1243.1L1873.4 1244.4L1875.0 1245.6L1876.6 1246.8L1878.2 1248.0L1879.7 1249.3L1881.3 1250.5L1882.9 1251.7L1884.5 1252.9L1886.1 1254.1L1887.7 1255.3L1889.4 1256.4L1891.0 1257.6L1892.6 1258.8L1894.2 1260.0L1895.8 1261.1L1897.4 1262.3L1899.1 1263.5L1900.7 1264.6L1902.3 1265.8L1904.0 1266.9L1905.6 1268.1L1907.3 1269.2L1908.9 1270.3L1910.6 1271.5L1912.2 1272.6L1913.9 1273.7L1915.5 1274.8L1917.2 1275.9L1918.9 1277.0L1920.5 1278.1L1922.2 1279.2L1923.9 1280.3L1925.6 1281.4L1927.3 1282.5L1928.9 1283.6L1930.6 1284.6L1932.3 1285.7L1934.0 1286.8L1935.7 1287.8L1937.4 1288.9L1939.1 1289.9L1940.8 1291.0L1942.5 1292.0L1944.3 1293.0L1946.0 1294.1L1947.7 1295.1L1949.4 1296.1L1951.1 1297.1L1952.9 1298.1L1954.6 1299.1L1956.3 1300.1L1958.1 1301.1L1959.8 1302.1L1961.6 1303.1L1963.3 1304.0L1965.0 1305.0L1966.8 1306.0L1968.6 1306.9L1970.3 1307.9L1972.1 1308.8L1973.8 1309.8L1975.6 1310.7L1977.4 1311.7L1979.1 1312.6L1980.9 1313.5L1982.7 1314.4L1984.5 1315.3L1986.3 1316.2L1988.0 1317.1L1989.8 1318.0L1991.6 1318.9L1993.4 1319.8L1995.2 1320.7L1997.0 1321.6L1998.8 1322.4L2000.6 1323.3L2002.4 1324.2L2004.2 1325.0L2006.0 1325.9L2007.9 1326.7L2009.7 1327.5L2011.5 1328.4L2013.3 1329.2L2015.1 1330.0L2017.0 1330.8L2018.8 1331.6L2020.6 1332.4L2022.5 1333.2L2024.3 1334.0L2026.1 1334.8L2028.0 1335.6L2029.8 1336.3L2031.7 1337.1L2033.5 1337.9L2035.4 1338.6L2037.2 1339.4L2039.1 1340.1L2041.0 1340.8L2042.8 1341.6L2044.7 1342.3L2046.5 1343.0L2048.4 1343.7L2050.3 1344.4L2052.2 1345.1L2054.0 1345.8L2055.9 1346.5L2057.8 1347.2L2059.7 1347.9L2061.6 1348.5L2063.5 1349.2L2065.3 1349.9L2067.2 1350.5L2069.1 1351.1L2071.0 1351.8L2072.9 1352.4L2074.8 1353.0L2076.7 1353.7L2078.6 1354.3L2080.5 1354.9L2082.4 1355.5L2084.4 1356.1L2086.3 1356.6L2088.2 1357.2L2090.1 1357.8L2092.0 1358.4L2093.9 1358.9L2095.9 1359.5L2097.8 1360.0L2099.7 1360.6L2101.6 1361.1L2103.6 1361.6L2105.5 1362.1L2107.4 1362.7L2109.4 1363.2L2111.3 1363.7L2113.2 1364.2L2115.2 1364.6L2117.1 1365.1L2119.1 1365.6L2121.0 1366.1L2123.0 1366.5L2124.9 1367.0L2126.9 1367.4L2128.8 1367.8L2130.8 1368.3L2132.7 1368.7L2134.7 1369.1L2136.6 1369.5L2138.6 1369.9L2140.5 1370.3L2142.5 1370.7L2144.5 1371.1L2146.4 1371.5L2148.4 1371.8L2150.4 1372.2L2152.3 1372.5L2154.3 1372.9L2156.3 1373.2L2158.3 1373.6L2160.2 1373.9L2162.2 1374.2L2164.2 1374.5L2166.2 1374.8L2168.1 1375.1L2170.1 1375.4L2172.1 1375.7L2174.1 1375.9L2176.1 1376.2L2178.0 1376.5L2180.0 1376.7L2182.0 1377.0L2184.0 1377.2L2186.0 1377.4L2188.0 1377.6L2190.0 1377.9L2191.9 1378.1L2193.9 1378.3L2195.9 1378.5L2197.9 1378.6L2199.9 1378.8L2201.9 1379.0L2203.9 1379.1L2205.9 1379.3L2207.9 1379.4L2209.9 1379.6L2211.9 1379.7L2213.9 1379.8L2215.9 1379.9L2217.4 1380.0" fill="none" stroke="#0000ff" stroke-width="12" stroke-linecap="round" stroke-linejoin="round"/><path d="M332.3 1407.5L333.3 1407.4L334.3 1407.3L335.3 1407.2L336.3 1407.2L337.3 1407.1L338.3 1407.0L339.3 1407.0L340.3 1406.9L341.3 1406.9L342.3 1406.8L343.3 1406.8L344.3 1406.7L345.3 1406.7L346.3 1406.7L347.3 1406.7L348.3 1406.7L349.3 1406.7L350.3 1406.6L351.3 1406.6L352.3 1406.6L353.3 1406.7L354.3 1406.7L355.3 1406.7L356.3 1406.7L357.3 1406.7L358.3 1406.8L359.3 1406.8L360.3 1406.8L361.3 1406.8L362.3 1406.9L363.3 1406.9L364.3 1407.0L364.8 1407.0M395.0 1409.0L395.2 1409.0L396.2 1409.1L397.2 1409.2L398.2 1409.2L399.2 1409.3L400.2 1409.4L400.4 1409.4M430.4 1410.5L431.2 1410.5L432.2 1410.5L433.2 1410.5L434.2 1410.4L435.2 1410.4L435.8 1410.4M466.2 1406.7L466.9 1406.6L467.9 1406.3L468.8 1406.1L469.8 1405.8L470.8 1405.6L471.7 1405.3L472.7 1405.0L473.7 1404.8L474.6 1404.5L475.6 1404.2L476.5 1403.9L477.5 1403.5L478.4 1403.2L479.4 1402.9L480.3 1402.6L481.2 1402.2L482.2 1401.9L483.1 1401.5L484.0 1401.1L485.0 1400.8L485.9 1400.4L486.8 1400.0L487.7 1399.6L488.6 1399.2L489.6 1398.8L490.5 1398.3L491.4 1397.9L492.3 1397.5L493.2 1397.1L494.1 1396.6L495.0 1396.2L495.8 1395.7L496.7 1395.2L497.6 1394.8L498.5 1394.3L498.7 1394.2M528.7 1371.7L528.8 1371.6L529.5 1370.9L530.2 1370.2L530.9 1369.4L531.6 1368.7L532.3 1368.0L533.0 1367.3L533.7 1366.5L533.8 1366.4M555.0 1336.5L555.0 1336.4L555.5 1335.5L556.0 1334.7L556.4 1333.8L556.9 1332.9L557.4 1332.0L557.8 1331.2M570.6 1300.8L570.6 1300.7L570.9 1299.8L571.3 1298.8L571.6 1297.9L571.9 1296.9L572.2 1296.0L572.5 1295.0L572.8 1294.1L573.1 1293.1L573.4 1292.2L573.7 1291.2L574.0 1290.3L574.3 1289.3L574.6 1288.4L574.9 1287.4L575.2 1286.4L575.4 1285.5L575.7 1284.5L576.0 1283.6L576.3 1282.6L576.5 1281.6L576.8 1280.7L577.1 1279.7L577.3 1278.7L577.6 1277.8L577.8 1276.8L578.1 1275.8L578.3 1274.9L578.6 1273.9L578.8 1272.9L579.1 1272.0L579.3 1271.0L579.6 1270.0L579.8 1269.1L580.1 1268.1L580.1 1267.7M586.8 1236.6L587.0 1235.8L587.2 1234.8L587.3 1233.8L587.5 1232.9L587.7 1231.9L587.9 1231.0M593.4 1200.0L593.5 1199.4L593.7 1198.4L593.8 1197.4L594.0 1196.4L594.2 1195.5L594.4 1194.5M599.9 1163.0L599.9 1163.0L600.1 1162.0L600.3 1161.0L600.5 1160.0L600.6 1159.0L600.8 1158.0L601.0 1157.1L601.2 1156.1L601.3 1155.1L601.5 1154.1L601.7 1153.1L601.8 1152.1L602.0 1151.1L602.2 1150.2L602.4 1149.2L602.5 1148.2L602.7 1147.2L602.9 1146.2L603.1 1145.2L603.2 1144.2L603.4 1143.3L603.6 1142.3L603.8 1141.3L603.9 1140.3L604.1 1139.3L604.3 1138.3L604.5 1137.4L604.6 1136.4L604.8 1135.4L605.0 1134.4L605.1 1133.4L605.3 1132.4L605.5 1131.4L605.7 1130.5L605.8 1129.7M611.0 1098.9L611.0 1098.9L611.2 1097.9L611.3 1096.9L611.5 1095.9L611.6 1095.0L611.8 1094.0L611.9 1093.4M616.6 1062.9L616.6 1062.3L616.8 1061.4L616.9 1060.4L617.1 1059.4L617.2 1058.4L617.4 1057.4L617.4 1057.4M621.5 1026.4L621.5 1025.7L621.7 1024.7L621.8 1023.7L621.9 1022.7L622.0 1021.7L622.2 1020.7L622.3 1019.7L622.4 1018.7L622.5 1017.7L622.6 1016.7L622.7 1015.7L622.9 1014.7L623.0 1013.8L623.1 1012.8L623.2 1011.8L623.3 1010.8L623.4 1009.8L623.6 1008.8L623.7 1007.8L623.8 1006.8L623.9 1005.8L624.0 1004.8L624.1 1003.8L624.2 1002.8L624.4 1001.8L624.5 1000.8L624.6 999.8L624.7 998.9L624.8 997.9L624.9 996.9L625.0 995.9L625.1 994.9L625.3 993.9L625.3 993.0M628.6 961.8L628.7 961.1L628.8 960.1L628.9 959.1L629.0 958.1L629.1 957.1L629.2 956.3M632.2 925.3L632.2 925.2L632.3 924.2L632.3 923.2L632.4 922.2L632.5 921.2L632.6 920.3L632.7 919.7M635.6 888.3L635.6 887.4L635.7 886.4L635.8 885.4L635.9 884.4L636.0 883.4L636.1 882.4L636.2 881.4L636.3 880.4L636.4 879.4L636.5 878.4L636.5 877.4L636.6 876.4L636.7 875.4L636.8 874.4L636.9 873.4L637.0 872.5L637.1 871.5L637.2 870.5L637.3 869.5L637.4 868.5L637.5 867.5L637.6 866.5L637.6 865.5L637.7 864.5L637.8 863.5L637.9 862.5L638.0 861.5L638.1 860.5L638.2 859.5L638.3 858.5L638.4 857.5L638.5 856.5L638.6 855.5L638.6 854.9M641.5 824.2L641.6 823.7L641.7 822.7L641.8 821.7L641.9 820.7L642.0 819.7L642.1 818.7M645.2 788.2L645.3 787.9L645.4 786.9L645.5 785.9L645.6 784.9L645.7 783.9L645.8 782.9L645.8 782.7M649.4 751.7L649.4 751.1L649.6 750.1L649.7 749.1L649.8 748.1L649.9 747.1L650.0 746.1L650.1 745.1L650.3 744.1L650.4 743.1L650.5 742.2L650.6 741.2L650.7 740.2L650.8 739.2L651.0 738.2L651.1 737.2L651.2 736.2L651.3 735.2L651.4 734.2L651.6 733.2L651.7 732.2L651.8 731.2L651.9 730.2L652.0 729.2L652.1 728.3L652.3 727.3L652.4 726.3L652.5 725.3L652.6 724.3L652.7 723.3L652.8 722.3L653.0 721.3L653.1 720.3L653.2 719.3L653.2 718.9M656.7 688.6L656.7 688.5L656.8 687.5L657.0 686.5L657.1 685.5L657.2 684.5L657.3 683.5L657.3 683.2M670.1 658.7L670.3 658.9L671.0 659.6L671.6 660.3L672.2 661.1L672.8 662.0L673.3 662.8L673.8 663.7L674.0 664.1M679.0 694.6L679.0 695.0L679.0 696.0L679.1 697.0L679.1 698.0L679.1 699.0L679.1 700.0L679.1 701.0L679.1 702.0L679.1 703.0L679.1 704.0L679.1 705.0L679.1 706.0L679.1 707.0L679.1 708.0L679.1 709.0L679.2 710.0L679.2 711.0L679.2 712.0L679.2 713.0L679.2 714.0L679.3 715.0L679.3 716.0L679.3 717.0L679.4 718.0L679.4 719.0L679.4 720.0L679.5 721.0L679.5 722.0L679.6 723.0L679.6 724.0L679.7 725.0L679.8 726.0L679.8 727.0L679.9 727.7M682.8 758.6L682.9 758.8L683.0 759.8L683.1 760.8L683.2 761.8L683.3 762.8L683.4 763.8L683.5 764.2M686.6 794.9L686.7 795.6L686.8 796.6L686.9 797.6L687.0 798.6L687.1 799.6L687.2 800.5M690.0 831.7L690.1 832.5L690.2 833.5L690.3 834.5L690.4 835.5L690.5 836.4L690.5 837.4L690.6 838.4L690.7 839.4L690.8 840.4L690.9 841.4L691.0 842.4L691.1 843.4L691.1 844.4L691.2 845.4L691.3 846.4L691.4 847.4L691.5 848.4L691.6 849.4L691.7 850.4L691.7 851.4L691.8 852.4L691.9 853.4L692.0 854.4L692.1 855.4L692.2 856.4L692.2 857.4L692.3 858.4L692.4 859.4L692.5 860.4L692.6 861.4L692.7 862.4L692.8 863.3L692.8 864.3L692.9 865.1M695.5 896.1L695.5 896.2L695.6 897.2L695.7 898.2L695.8 899.2L695.9 900.2L695.9 901.2L696.0 901.6M698.6 932.4L698.7 933.1L698.8 934.1L698.9 935.1L699.0 936.1L699.1 937.1L699.1 937.9M702.1 969.2L702.2 969.9L702.3 970.9L702.4 971.9L702.5 972.9L702.6 973.9L702.7 974.9L702.8 975.9L702.9 976.9L703.0 977.9L703.1 978.9L703.2 979.9L703.3 980.9L703.4 981.9L703.5 982.9L703.7 983.9L703.8 984.8L703.9 985.8L704.0 986.8L704.1 987.8L704.2 988.8L704.3 989.8L704.4 990.8L704.5 991.8L704.6 992.8L704.7 993.8L704.9 994.8L705.0 995.8L705.1 996.8L705.2 997.8L705.3 998.8L705.4 999.8L705.5 1000.7L705.7 1001.7L705.8 1002.5M709.7 1033.4L709.8 1033.5L709.9 1034.5L710.0 1035.5L710.2 1036.4L710.3 1037.4L710.5 1038.4L710.5 1038.9M715.5 1069.5L715.6 1070.0L715.7 1071.0L715.9 1072.0L716.1 1073.0L716.3 1074.0L716.4 1074.9L716.5 1075.0M722.8 1106.2L722.8 1106.3L723.0 1107.3L723.2 1108.3L723.5 1109.2L723.7 1110.2L723.9 1111.2L724.1 1112.2L724.3 1113.1L724.6 1114.1L724.8 1115.1L725.0 1116.0L725.3 1117.0L725.5 1118.0L725.7 1119.0L725.9 1119.9L726.2 1120.9L726.4 1121.9L726.6 1122.9L726.9 1123.8L727.1 1124.8L727.4 1125.8L727.6 1126.7L727.8 1127.7L728.1 1128.7L728.3 1129.7L728.6 1130.6L728.8 1131.6L729.1 1132.6L729.3 1133.5L729.6 1134.5L729.8 1135.5L730.1 1136.4L730.3 1137.4L730.6 1138.4L730.8 1139.3L730.9 1139.6M739.7 1170.6L739.8 1171.1L740.1 1172.0L740.4 1173.0L740.7 1174.0L741.0 1174.9L741.3 1175.9L741.4 1176.2M751.5 1207.0L751.5 1207.2L751.9 1208.2L752.2 1209.1L752.5 1210.1L752.9 1211.0L753.2 1211.9L753.4 1212.5M764.9 1243.9L765.3 1244.8L765.7 1245.7L766.0 1246.7L766.4 1247.6L766.7 1248.5L767.1 1249.4L767.5 1250.4L767.8 1251.3L768.2 1252.2L768.6 1253.2L768.9 1254.1L769.3 1255.0L769.7 1256.0L770.0 1256.9L770.4 1257.8L770.8 1258.7L771.1 1259.7L771.5 1260.6L771.9 1261.5L772.3 1262.5L772.6 1263.4L773.0 1264.3L773.4 1265.2L773.8 1266.2L774.1 1267.1L774.5 1268.0L774.9 1268.9L775.3 1269.9L775.7 1270.8L776.1 1271.7L776.5 1272.6L776.8 1273.6L777.2 1274.5L777.6 1275.4L778.0 1276.3L778.4 1277.2M795.6 1307.9L796.0 1308.5L796.6 1309.3L797.3 1310.1L797.9 1310.9L798.5 1311.6L799.2 1312.4L799.9 1313.2L800.1 1313.4M830.6 1331.2L831.3 1331.3L832.3 1331.5L833.3 1331.7L834.3 1331.8L835.2 1332.0L836.0 1332.1M867.1 1329.7L867.9 1329.5L868.9 1329.2L869.8 1328.9L870.8 1328.6L871.7 1328.3L872.7 1328.0L873.6 1327.7L874.6 1327.3L875.5 1326.9L876.4 1326.6L877.4 1326.2L878.3 1325.8L879.2 1325.4L880.1 1325.0L881.0 1324.6L881.9 1324.1L882.8 1323.7L883.7 1323.2L884.6 1322.7L885.4 1322.3L886.3 1321.8L887.2 1321.2L888.0 1320.7L888.9 1320.2L889.7 1319.7L890.5 1319.1L891.4 1318.5L892.2 1318.0L893.0 1317.4L893.8 1316.8L894.6 1316.2L895.4 1315.6L896.2 1314.9L897.0 1314.3L897.7 1313.7L898.5 1313.0L899.2 1312.4L900.0 1311.7L900.6 1311.1M924.2 1279.9L924.6 1279.2L925.1 1278.3L925.6 1277.4L926.1 1276.5L926.6 1275.7L927.0 1274.8L927.3 1274.3M941.6 1243.3L941.7 1243.0L942.1 1242.1L942.5 1241.2L942.9 1240.3L943.3 1239.3L943.7 1238.4L944.0 1237.7M956.9 1206.1L956.9 1206.0L957.3 1205.1L957.7 1204.2L958.0 1203.2L958.4 1202.3L958.8 1201.4L959.1 1200.5L959.5 1199.5L959.9 1198.6L960.2 1197.7L960.6 1196.7L961.0 1195.8L961.3 1194.9L961.7 1193.9L962.0 1193.0L962.4 1192.1L962.8 1191.1L963.1 1190.2L963.5 1189.3L963.9 1188.3L964.2 1187.4L964.6 1186.5L964.9 1185.5L965.3 1184.6L965.6 1183.7L966.0 1182.7L966.4 1181.8L966.7 1180.9L967.1 1179.9L967.4 1179.0L967.8 1178.1L968.1 1177.1L968.5 1176.2L968.8 1175.3L969.2 1174.3L969.5 1173.4L969.8 1172.6M981.1 1141.8L981.2 1141.5L981.6 1140.5L981.9 1139.6L982.2 1138.6L982.6 1137.7L982.9 1136.7L983.1 1136.3M993.7 1105.6L993.7 1105.5L994.0 1104.6L994.3 1103.7L994.6 1102.7L994.9 1101.8L995.3 1100.8L995.5 1100.1M1005.7 1068.9L1005.9 1068.5L1006.2 1067.5L1006.5 1066.6L1006.8 1065.6L1007.1 1064.7L1007.4 1063.7L1007.7 1062.8L1008.0 1061.8L1008.3 1060.9L1008.6 1059.9L1008.9 1059.0L1009.2 1058.0L1009.5 1057.1L1009.8 1056.1L1010.1 1055.2L1010.4 1054.2L1010.7 1053.3L1011.0 1052.3L1011.3 1051.3L1011.6 1050.4L1011.9 1049.4L1012.2 1048.5L1012.5 1047.5L1012.8 1046.6L1013.1 1045.6L1013.4 1044.7L1013.7 1043.7L1014.0 1042.8L1014.3 1041.8L1014.6 1040.8L1014.9 1039.9L1015.2 1038.9L1015.5 1038.0L1015.8 1037.0L1016.1 1036.1L1016.2 1035.5M1025.7 1004.4L1026.0 1003.5L1026.3 1002.6L1026.6 1001.6L1026.8 1000.7L1027.1 999.7L1027.4 998.9M1036.5 968.0L1036.8 967.1L1037.0 966.2L1037.3 965.2L1037.6 964.2L1037.9 963.3L1038.1 962.4M1047.2 931.0L1047.3 930.6L1047.6 929.6L1047.8 928.7L1048.1 927.7L1048.4 926.8L1048.7 925.8L1048.9 924.8L1049.2 923.9L1049.5 922.9L1049.8 921.9L1050.0 921.0L1050.3 920.0L1050.6 919.1L1050.8 918.1L1051.1 917.1L1051.4 916.2L1051.7 915.2L1051.9 914.2L1052.2 913.3L1052.5 912.3L1052.7 911.4L1053.0 910.4L1053.3 909.4L1053.6 908.5L1053.8 907.5L1054.1 906.5L1054.4 905.6L1054.6 904.6L1054.9 903.7L1055.2 902.7L1055.5 901.7L1055.7 900.8L1056.0 899.8L1056.3 898.8L1056.5 897.9L1056.6 897.6M1065.1 866.7L1065.3 866.1L1065.6 865.1L1065.9 864.1L1066.1 863.2L1066.4 862.2L1066.7 861.2L1066.7 861.2M1075.0 830.5L1075.0 830.4L1075.3 829.4L1075.6 828.4L1075.8 827.5L1076.1 826.5L1076.3 825.5L1076.5 825.0M1084.8 793.9L1084.8 793.7L1085.1 792.7L1085.4 791.7L1085.6 790.8L1085.9 789.8L1086.1 788.8L1086.4 787.9L1086.6 786.9L1086.9 785.9L1087.2 785.0L1087.4 784.0L1087.7 783.0L1087.9 782.1L1088.2 781.1L1088.4 780.1L1088.7 779.2L1088.9 778.2L1089.2 777.2L1089.5 776.3L1089.7 775.3L1090.0 774.3L1090.2 773.4L1090.5 772.4L1090.7 771.4L1091.0 770.5L1091.2 769.5L1091.5 768.5L1091.7 767.6L1092.0 766.6L1092.2 765.6L1092.5 764.6L1092.8 763.7L1093.0 762.7L1093.3 761.7L1093.5 760.8L1093.6 760.5M1101.7 729.6L1101.8 728.8L1102.1 727.9L1102.4 726.9L1102.6 725.9L1102.9 725.0L1103.1 724.0M1111.1 693.3L1111.1 693.0L1111.4 692.1L1111.6 691.1L1111.9 690.1L1112.1 689.2L1112.4 688.2L1112.5 687.7M1120.5 656.4L1120.6 656.2L1120.8 655.3L1121.1 654.3L1121.3 653.3L1121.6 652.3L1121.8 651.4L1122.1 650.4L1122.3 649.4L1122.5 648.5L1122.8 647.5L1123.0 646.5L1123.3 645.6L1123.5 644.6L1123.8 643.6L1124.0 642.7L1124.3 641.7L1124.5 640.7L1124.8 639.8L1125.0 638.8L1125.3 637.8L1125.5 636.8L1125.8 635.9L1126.0 634.9L1126.3 633.9L1126.5 633.0L1126.8 632.0L1127.0 631.0L1127.3 630.1L1127.5 629.1L1127.8 628.1L1128.0 627.2L1128.3 626.2L1128.5 625.2L1128.7 624.3L1129.0 623.3L1129.0 623.2M1136.9 592.4L1136.9 592.3L1137.2 591.3L1137.4 590.4L1137.7 589.4L1137.9 588.4L1138.2 587.4L1138.3 586.9M1146.2 556.4L1146.4 555.5L1146.7 554.5L1146.9 553.6L1147.2 552.6L1147.4 551.6L1147.6 550.9M1155.7 519.8L1155.8 519.7L1156.0 518.7L1156.3 517.8L1156.5 516.8L1156.8 515.8L1157.0 514.9L1157.3 513.9L1157.6 512.9L1157.8 512.0L1158.1 511.0L1158.3 510.0L1158.6 509.1L1158.8 508.1L1159.1 507.1L1159.3 506.2L1159.6 505.2L1159.8 504.2L1160.1 503.2L1160.4 502.3L1160.6 501.3L1160.9 500.3L1161.1 499.4L1161.4 498.4L1161.6 497.4L1161.9 496.5L1162.1 495.5L1162.4 494.5L1162.7 493.6L1162.9 492.6L1163.2 491.7L1163.4 490.7L1163.7 489.7L1163.9 488.8L1164.2 487.8L1164.5 486.8L1164.5 486.6M1172.8 455.8L1173.0 454.9L1173.3 454.0L1173.6 453.0L1173.8 452.1L1174.1 451.1L1174.3 450.3M1182.7 419.6L1182.8 419.3L1183.1 418.3L1183.4 417.3L1183.6 416.4L1183.9 415.4L1184.2 414.5L1184.3 414.1M1193.0 383.0L1193.1 382.7L1193.4 381.7L1193.7 380.8L1193.9 379.8L1194.2 378.8L1194.5 377.9L1194.8 376.9L1195.1 376.0L1195.3 375.0L1195.6 374.0L1195.9 373.1L1196.2 372.1L1196.4 371.2L1196.7 370.2L1197.0 369.2L1197.3 368.3L1197.5 367.3L1197.8 366.4L1198.1 365.4L1198.4 364.4L1198.7 363.5L1198.9 362.5L1199.2 361.6L1199.5 360.6L1199.8 359.6L1200.1 358.7L1200.3 357.7L1200.6 356.8L1200.9 355.8L1201.2 354.8L1201.5 353.9L1201.7 352.9L1202.0 352.0L1202.3 351.0L1202.6 350.0L1202.7 349.7M1212.1 318.7L1212.2 318.5L1212.5 317.5L1212.8 316.6L1213.1 315.6L1213.4 314.7L1213.8 313.7L1213.9 313.2M1224.4 282.5L1224.4 282.5L1224.7 281.5L1225.1 280.6L1225.4 279.7L1225.7 278.7L1226.1 277.8L1226.4 277.0M1239.0 245.7L1239.1 245.3L1239.6 244.4L1240.0 243.5L1240.4 242.6L1240.8 241.7L1241.2 240.8L1241.6 239.8L1242.0 238.9L1242.5 238.0L1242.9 237.1L1243.3 236.2L1243.7 235.3L1244.2 234.4L1244.6 233.5L1245.0 232.6L1245.5 231.7L1245.9 230.8L1246.4 229.9L1246.8 229.0L1247.3 228.1L1247.7 227.2L1248.2 226.3L1248.6 225.5L1249.1 224.6L1249.5 223.7L1250.0 222.8L1250.5 221.9L1250.9 221.0L1251.4 220.1L1251.9 219.3L1252.4 218.4L1252.8 217.5L1253.3 216.6L1253.8 215.8L1254.3 214.9L1254.8 214.0L1255.3 213.2M1275.4 183.9L1275.7 183.6L1276.4 182.9L1277.1 182.2L1277.8 181.5L1278.5 180.8L1279.3 180.1L1280.0 179.4L1280.6 179.0M1309.8 167.1L1309.9 167.1L1310.9 167.0L1311.9 167.0L1312.9 167.1L1313.9 167.1L1314.9 167.2L1315.1 167.2M1344.8 181.5L1345.0 181.7L1345.7 182.4L1346.4 183.0L1347.2 183.7L1347.9 184.4L1348.6 185.1L1349.3 185.8L1350.0 186.5L1350.7 187.2L1351.4 188.0L1352.1 188.7L1352.8 189.4L1353.4 190.2L1354.1 190.9L1354.8 191.7L1355.4 192.4L1356.1 193.2L1356.7 193.9L1357.4 194.7L1358.0 195.4L1358.7 196.2L1359.3 197.0L1360.0 197.7L1360.6 198.5L1361.2 199.3L1361.9 200.1L1362.5 200.8L1363.1 201.6L1363.7 202.4L1364.4 203.2L1365.0 204.0L1365.6 204.8L1366.2 205.6L1366.8 206.4L1367.4 207.2L1368.0 208.0L1368.6 208.8L1369.2 209.6L1369.8 210.4L1370.4 211.2L1371.0 212.0L1371.6 212.8L1371.9 213.2M1391.2 243.5L1391.5 243.9L1392.0 244.8L1392.5 245.7L1393.0 246.5L1393.5 247.4L1394.0 248.3L1394.3 248.9M1410.2 279.0L1410.3 279.2L1410.8 280.1L1411.2 281.0L1411.7 281.9L1412.2 282.8L1412.6 283.7L1413.0 284.4M1428.1 314.9L1428.1 315.0L1428.6 315.9L1429.0 316.8L1429.4 317.7L1429.9 318.6L1430.3 319.5L1430.8 320.4L1431.2 321.3L1431.6 322.2L1432.1 323.1L1432.5 324.0L1432.9 324.9L1433.4 325.8L1433.8 326.7L1434.2 327.6L1434.6 328.6L1435.1 329.5L1435.5 330.4L1435.9 331.3L1436.4 332.2L1436.8 333.1L1437.2 334.0L1437.7 334.9L1438.1 335.8L1438.5 336.7L1438.9 337.6L1439.4 338.5L1439.8 339.4L1440.2 340.3L1440.7 341.2L1441.1 342.1L1441.5 343.0L1441.9 343.9L1442.4 344.8L1442.8 345.7L1443.2 346.6L1443.6 347.5L1443.8 347.9M1458.0 378.9L1458.2 379.3L1458.6 380.3L1459.1 381.2L1459.5 382.1L1459.9 383.0L1460.3 383.9L1460.5 384.4M1474.1 415.2L1474.4 415.9L1474.8 416.9L1475.2 417.8L1475.6 418.7L1476.0 419.6L1476.4 420.5L1476.5 420.7M1489.7 452.0L1490.0 452.8L1490.4 453.7L1490.8 454.6L1491.2 455.5L1491.5 456.5L1491.9 457.4L1492.3 458.3L1492.7 459.2L1493.1 460.1L1493.4 461.1L1493.8 462.0L1494.2 462.9L1494.6 463.8L1495.0 464.8L1495.4 465.7L1495.7 466.6L1496.1 467.5L1496.5 468.5L1496.9 469.4L1497.3 470.3L1497.6 471.2L1498.0 472.2L1498.4 473.1L1498.8 474.0L1499.1 474.9L1499.5 475.9L1499.9 476.8L1500.3 477.7L1500.7 478.7L1501.0 479.6L1501.4 480.5L1501.8 481.4L1502.2 482.4L1502.5 483.3L1502.9 484.2L1503.3 485.1L1503.4 485.4M1515.8 516.3L1515.9 516.7L1516.3 517.6L1516.7 518.6L1517.1 519.5L1517.4 520.4L1517.8 521.3L1518.0 521.9M1530.1 552.6L1530.2 553.0L1530.6 553.9L1531.0 554.8L1531.3 555.8L1531.7 556.7L1532.1 557.6L1532.3 558.2M1544.4 589.4L1544.8 590.3L1545.1 591.2L1545.5 592.1L1545.8 593.1L1546.2 594.0L1546.6 594.9L1546.9 595.9L1547.3 596.8L1547.6 597.7L1548.0 598.6L1548.4 599.6L1548.7 600.5L1549.1 601.4L1549.5 602.4L1549.8 603.3L1550.2 604.2L1550.5 605.2L1550.9 606.1L1551.3 607.0L1551.6 608.0L1552.0 608.9L1552.3 609.8L1552.7 610.8L1553.1 611.7L1553.4 612.6L1553.8 613.6L1554.2 614.5L1554.5 615.4L1554.9 616.4L1555.2 617.3L1555.6 618.2L1556.0 619.2L1556.3 620.1L1556.7 621.0L1557.1 622.0L1557.3 622.7M1569.3 653.5L1569.4 653.6L1569.8 654.6L1570.1 655.5L1570.5 656.4L1570.8 657.4L1571.2 658.3L1571.5 659.0M1583.5 689.6L1583.7 689.9L1584.1 690.9L1584.4 691.8L1584.8 692.7L1585.2 693.6L1585.5 694.6L1585.7 695.1M1598.2 726.2L1598.6 727.0L1599.0 728.0L1599.4 728.9L1599.7 729.8L1600.1 730.7L1600.5 731.7L1600.9 732.6L1601.2 733.5L1601.6 734.4L1602.0 735.4L1602.4 736.3L1602.8 737.2L1603.1 738.1L1603.5 739.1L1603.9 740.0L1604.3 740.9L1604.7 741.8L1605.0 742.8L1605.4 743.7L1605.8 744.6L1606.2 745.5L1606.6 746.5L1606.9 747.4L1607.3 748.3L1607.7 749.2L1608.1 750.2L1608.5 751.1L1608.9 752.0L1609.2 752.9L1609.6 753.9L1610.0 754.8L1610.4 755.7L1610.8 756.6L1611.2 757.5L1611.6 758.5L1611.9 759.4L1612.0 759.6M1625.3 790.9L1625.6 791.6L1626.0 792.5L1626.4 793.4L1626.8 794.4L1627.2 795.3L1627.6 796.2L1627.8 796.5M1641.5 827.5L1641.8 828.2L1642.2 829.1L1642.7 830.0L1643.1 830.9L1643.5 831.8L1643.9 832.7L1644.1 833.1M1658.8 864.7L1659.1 865.4L1659.6 866.3L1660.0 867.2L1660.4 868.1L1660.9 869.0L1661.3 869.9L1661.7 870.8L1662.2 871.7L1662.6 872.6L1663.0 873.5L1663.5 874.4L1663.9 875.3L1664.3 876.2L1664.8 877.1L1665.2 878.0L1665.6 878.9L1666.1 879.8L1666.5 880.7L1667.0 881.6L1667.4 882.5L1667.8 883.4L1668.3 884.2L1668.7 885.1L1669.2 886.0L1669.6 886.9L1670.1 887.8L1670.5 888.7L1670.9 889.6L1671.4 890.5L1671.8 891.4L1672.3 892.3L1672.7 893.2L1673.2 894.1L1673.6 895.0L1674.1 895.9L1674.5 896.8L1675.0 897.7L1675.2 898.1M1691.1 928.8L1691.5 929.7L1692.0 930.5L1692.5 931.4L1692.9 932.3L1693.4 933.2L1693.9 934.1L1694.0 934.3M1710.8 964.8L1711.3 965.6L1711.8 966.4L1712.3 967.3L1712.8 968.2L1713.3 969.0L1713.8 969.9L1714.0 970.3M1732.4 1001.3L1732.7 1001.7L1733.2 1002.6L1733.7 1003.4L1734.3 1004.3L1734.8 1005.1L1735.3 1006.0L1735.8 1006.8L1736.4 1007.7L1736.9 1008.5L1737.4 1009.4L1738.0 1010.2L1738.5 1011.1L1739.0 1011.9L1739.5 1012.7L1740.1 1013.6L1740.6 1014.4L1741.1 1015.3L1741.7 1016.1L1742.2 1017.0L1742.8 1017.8L1743.3 1018.7L1743.8 1019.5L1744.4 1020.3L1744.9 1021.2L1745.4 1022.0L1746.0 1022.9L1746.5 1023.7L1747.1 1024.5L1747.6 1025.4L1748.2 1026.2L1748.7 1027.1L1749.3 1027.9L1749.8 1028.7L1750.3 1029.6L1750.9 1030.4L1751.4 1031.3L1752.0 1032.1L1752.5 1032.9L1753.1 1033.8L1753.3 1034.1M1774.0 1064.3L1774.6 1065.1L1775.1 1065.9L1775.7 1066.7L1776.3 1067.6L1776.9 1068.4L1777.5 1069.2L1777.8 1069.7M1800.2 1099.7L1800.8 1100.4L1801.4 1101.2L1802.0 1102.0L1802.6 1102.8L1803.3 1103.6L1803.9 1104.4L1804.4 1105.1M1829.5 1135.5L1829.9 1136.0L1830.6 1136.8L1831.2 1137.5L1831.9 1138.3L1832.5 1139.1L1833.2 1139.8L1833.8 1140.6L1834.5 1141.3L1835.2 1142.1L1835.8 1142.8L1836.5 1143.6L1837.1 1144.3L1837.8 1145.1L1838.5 1145.8L1839.1 1146.6L1839.8 1147.3L1840.5 1148.1L1841.1 1148.8L1841.8 1149.6L1842.5 1150.3L1843.1 1151.0L1843.8 1151.8L1844.5 1152.5L1845.1 1153.3L1845.8 1154.0L1846.5 1154.7L1847.2 1155.5L1847.8 1156.2L1848.5 1157.0L1849.2 1157.7L1849.9 1158.4L1850.5 1159.2L1851.2 1159.9L1851.9 1160.6L1852.6 1161.4L1853.3 1162.1L1853.9 1162.8L1854.6 1163.6L1855.3 1164.3L1856.0 1165.0L1856.7 1165.7L1857.4 1166.5L1858.1 1167.2L1858.2 1167.3M1886.6 1195.8L1887.0 1196.2L1887.8 1196.9L1888.5 1197.6L1889.2 1198.3L1889.9 1199.0L1890.7 1199.6L1891.4 1200.3L1891.8 1200.7M1920.5 1226.1L1920.6 1226.2L1921.3 1226.8L1922.1 1227.5L1922.9 1228.1L1923.6 1228.8L1924.4 1229.4L1925.2 1230.0L1925.7 1230.4M1955.0 1253.2L1955.2 1253.4L1956.0 1254.0L1956.8 1254.6L1957.6 1255.1L1958.4 1255.7L1959.2 1256.3L1960.0 1256.9L1960.8 1257.5L1961.6 1258.1L1962.5 1258.7L1963.3 1259.2L1964.1 1259.8L1964.9 1260.4L1965.7 1261.0L1966.5 1261.5L1967.4 1262.1L1968.2 1262.7L1969.0 1263.3L1969.8 1263.8L1970.6 1264.4L1971.5 1265.0L1972.3 1265.5L1973.1 1266.1L1973.9 1266.7L1974.8 1267.2L1975.6 1267.8L1976.4 1268.3L1977.3 1268.9L1978.1 1269.5L1978.9 1270.0L1979.7 1270.6L1980.6 1271.1L1981.4 1271.7L1982.3 1272.2L1983.1 1272.8L1983.9 1273.3L1984.8 1273.9L1985.6 1274.4L1986.4 1274.9L1987.3 1275.5L1987.3 1275.5M2018.3 1294.2L2019.0 1294.5L2019.9 1295.0L2020.7 1295.5L2021.6 1296.0L2022.5 1296.5L2023.4 1297.0L2023.9 1297.3M2054.7 1312.9L2055.4 1313.3L2056.4 1313.7L2057.3 1314.1L2058.2 1314.6L2059.1 1315.0L2060.0 1315.4L2060.2 1315.5M2091.5 1328.7L2092.2 1329.0L2093.2 1329.3L2094.1 1329.7L2095.0 1330.0L2096.0 1330.4L2096.9 1330.7L2097.8 1331.1L2098.8 1331.4L2099.7 1331.8L2100.7 1332.1L2101.6 1332.5L2102.5 1332.8L2103.5 1333.1L2104.4 1333.5L2105.4 1333.8L2106.3 1334.2L2107.3 1334.5L2108.2 1334.8L2109.1 1335.1L2110.1 1335.5L2111.0 1335.8L2112.0 1336.1L2112.9 1336.4L2113.9 1336.8L2114.8 1337.1L2115.8 1337.4L2116.7 1337.7L2117.7 1338.0L2118.6 1338.3L2119.6 1338.6L2120.5 1339.0L2121.5 1339.3L2122.4 1339.6L2123.4 1339.9L2124.3 1340.2L2124.8 1340.3M2155.6 1349.0L2156.1 1349.1L2157.1 1349.3L2158.0 1349.6L2159.0 1349.8L2160.0 1350.0L2161.0 1350.3L2161.1 1350.3M2191.7 1356.7L2192.3 1356.8L2193.3 1357.0L2194.2 1357.1L2195.2 1357.3L2196.2 1357.5L2197.2 1357.6" fill="none" stroke="#000000" stroke-width="12" stroke-linecap="round" stroke-linejoin="round"/><path d="M333.5 1410.2L334.5 1410.2L335.5 1410.1L336.5 1410.1L337.5 1410.1L338.5 1410.0L339.5 1410.0L340.5 1410.0L341.5 1410.0L342.5 1409.9L343.5 1409.9L344.5 1409.9L345.5 1409.9L346.5 1409.9L347.5 1409.9L348.5 1409.8L349.5 1409.8L350.5 1409.8L351.5 1409.8L352.5 1409.8L353.5 1409.8L354.5 1409.8L355.5 1409.8L356.5 1409.8L357.5 1409.8L358.5 1409.7L359.5 1409.7M381.5 1409.6L381.5 1409.5L381.6 1409.5M404.7 1408.8L405.5 1408.8L406.5 1408.8L407.5 1408.7L408.5 1408.6L409.5 1408.6L410.5 1408.5L411.5 1408.5L412.5 1408.4L413.5 1408.3L414.5 1408.2L415.5 1408.2L416.5 1408.1L417.5 1408.0L418.5 1407.9L419.5 1407.9L420.5 1407.8L421.5 1407.7L422.5 1407.6L423.5 1407.5L424.4 1407.4L425.4 1407.3L426.4 1407.2L427.4 1407.1L428.4 1407.0L429.4 1406.8L430.4 1406.7L431.4 1406.6M454.0 1402.7L454.1 1402.7L454.1 1402.7M476.7 1395.7L476.9 1395.5L477.9 1395.2L478.8 1394.8L479.7 1394.4L480.6 1393.9L481.5 1393.5L482.4 1393.1L483.3 1392.7L484.2 1392.2L485.1 1391.8L486.0 1391.3L486.9 1390.8L487.8 1390.4L488.6 1389.9L489.5 1389.4L490.4 1388.9L491.2 1388.4L492.1 1387.8L492.9 1387.3L493.8 1386.8L494.6 1386.2L495.4 1385.6L496.2 1385.1L497.1 1384.5L497.9 1383.9L498.7 1383.3L499.5 1382.7L500.2 1382.1L501.0 1381.5L501.8 1380.8L502.6 1380.2L502.6 1380.2M521.9 1358.8L521.9 1358.7L522.0 1358.7M535.0 1335.9L535.3 1335.3L535.7 1334.4L536.1 1333.5L536.6 1332.6L537.0 1331.7L537.4 1330.7L537.8 1329.8L538.2 1328.9L538.6 1328.0L538.9 1327.1L539.3 1326.1L539.7 1325.2L540.1 1324.3L540.5 1323.4L540.8 1322.4L541.2 1321.5L541.5 1320.6L541.9 1319.6L542.3 1318.7L542.6 1317.8L542.9 1316.8L543.3 1315.9L543.6 1314.9L544.0 1314.0L544.3 1313.1L544.6 1312.1L544.9 1311.2L545.3 1310.2L545.5 1309.6M552.2 1287.3L552.2 1287.2L552.2 1287.2M557.8 1264.1L557.9 1263.9L558.1 1262.9L558.3 1262.0L558.5 1261.0L558.7 1260.0L559.0 1259.0L559.2 1258.1L559.4 1257.1L559.6 1256.1L559.8 1255.1L560.0 1254.2L560.2 1253.2L560.4 1252.2L560.6 1251.2L560.9 1250.2L561.1 1249.3L561.3 1248.3L561.5 1247.3L561.7 1246.3L561.9 1245.3L562.1 1244.4L562.3 1243.4L562.5 1242.4L562.7 1241.4L562.9 1240.5L563.1 1239.5L563.3 1238.5L563.5 1237.5M567.8 1215.0L567.8 1214.9L567.8 1214.9M571.9 1191.9L572.0 1191.3L572.2 1190.3L572.3 1189.3L572.5 1188.3L572.6 1187.3L572.8 1186.4L573.0 1185.4L573.1 1184.4L573.3 1183.4L573.5 1182.4L573.6 1181.4L573.8 1180.4L573.9 1179.4L574.1 1178.5L574.2 1177.5L574.4 1176.5L574.6 1175.5L574.7 1174.5L574.9 1173.5L575.0 1172.5L575.2 1171.5L575.3 1170.6L575.5 1169.6L575.6 1168.6L575.8 1167.6L576.0 1166.6L576.1 1165.6L576.1 1165.4M579.4 1142.9L579.5 1142.9L579.5 1142.8M582.6 1119.7L582.7 1119.1L582.8 1118.1L583.0 1117.1L583.1 1116.1L583.2 1115.1L583.4 1114.1L583.5 1113.1L583.6 1112.1L583.8 1111.2L583.9 1110.2L584.0 1109.2L584.1 1108.2L584.3 1107.2L584.4 1106.2L584.5 1105.2L584.7 1104.2L584.8 1103.2L584.9 1102.2L585.0 1101.2L585.2 1100.2L585.3 1099.3L585.4 1098.3L585.5 1097.3L585.7 1096.3L585.8 1095.3L585.9 1094.3L586.0 1093.3L586.1 1093.1M588.8 1070.5L588.8 1070.5L588.8 1070.4M591.6 1047.3L591.6 1046.6L591.7 1045.6L591.9 1044.6L592.0 1043.7L592.1 1042.7L592.2 1041.7L592.3 1040.7L592.4 1039.7L592.5 1038.7L592.6 1037.7L592.8 1036.7L592.9 1035.7L593.0 1034.7L593.1 1033.7L593.2 1032.7L593.3 1031.7L593.4 1030.7L593.5 1029.7L593.6 1028.7L593.7 1027.8L593.8 1026.8L594.0 1025.8L594.1 1024.8L594.2 1023.8L594.3 1022.8L594.4 1021.8L594.5 1020.8L594.5 1020.6M596.9 998.0L596.9 997.9L596.9 997.9M599.2 975.0L599.3 974.0L599.4 973.0L599.5 972.1L599.6 971.1L599.7 970.1L599.8 969.1L599.9 968.1L600.0 967.1L600.1 966.1L600.2 965.1L600.3 964.1L600.4 963.1L600.5 962.1L600.6 961.1L600.7 960.1L600.8 959.1L600.9 958.1L601.0 957.1L601.1 956.1L601.2 955.1L601.2 954.1L601.3 953.1L601.4 952.1L601.5 951.1L601.6 950.2L601.7 949.2L601.8 948.7M603.8 926.3L603.8 926.3L603.8 926.2M605.9 903.0L605.9 902.3L606.0 901.3L606.1 900.4L606.2 899.4L606.3 898.4L606.3 897.4L606.4 896.4L606.5 895.4L606.6 894.4L606.7 893.4L606.8 892.4L606.9 891.4L606.9 890.4L607.0 889.4L607.1 888.4L607.2 887.4L607.3 886.4L607.4 885.4L607.4 884.4L607.5 883.4L607.6 882.4L607.7 881.4L607.8 880.4L607.9 879.4L607.9 878.4L608.0 877.4L608.1 876.4L608.1 876.3M609.9 853.6L609.9 853.5L609.9 853.5M611.7 830.6L611.8 829.6L611.9 828.6L611.9 827.6L612.0 826.6L612.1 825.6L612.2 824.6L612.2 823.6L612.3 822.6L612.4 821.6L612.5 820.6L612.5 819.6L612.6 818.6L612.7 817.6L612.8 816.6L612.8 815.6L612.9 814.6L613.0 813.6L613.1 812.6L613.1 811.6L613.2 810.6L613.3 809.6L613.4 808.6L613.4 807.6L613.5 806.6L613.6 805.6L613.6 804.6L613.7 804.2M615.3 781.8L615.3 781.7L615.3 781.7M616.9 758.4L617.0 757.8L617.0 756.8L617.1 755.8L617.2 754.8L617.2 753.8L617.3 752.8L617.4 751.8L617.4 750.8L617.5 749.8L617.6 748.8L617.6 747.8L617.7 746.8L617.8 745.8L617.8 744.8L617.9 743.8L618.0 742.8L618.0 741.8L618.1 740.8L618.2 739.8L618.2 738.8L618.3 737.8L618.4 736.8L618.4 735.8L618.5 734.8L618.6 733.8L618.6 732.8L618.7 731.8L618.7 731.7M620.2 708.9L620.2 708.9L620.2 708.8M621.7 685.9L621.7 684.9L621.8 683.9L621.9 682.9L621.9 681.9L622.0 680.9L622.1 679.9L622.1 678.9L622.2 677.9L622.2 676.9L622.3 675.9L622.4 674.9L622.4 673.9L622.5 672.9L622.6 671.9L622.6 671.0L622.7 670.0L622.8 669.0L622.8 668.0L622.9 667.0L622.9 666.0L623.0 665.0L623.1 664.0L623.1 663.0L623.2 662.0L623.2 661.0L623.3 660.0L623.3 659.5M624.7 637.1L624.7 637.0L624.7 637.0M626.2 613.7L626.2 613.1L626.3 612.1L626.3 611.1L626.4 610.1L626.4 609.1L626.5 608.1L626.6 607.1L626.6 606.1L626.7 605.1L626.7 604.1L626.8 603.1L626.9 602.1L626.9 601.1L627.0 600.1L627.1 599.1L627.1 598.1L627.2 597.1L627.2 596.1L627.3 595.1L627.4 594.1L627.4 593.1L627.5 592.1L627.5 591.1L627.6 590.1L627.7 589.1L627.7 588.1L627.8 587.1L627.8 586.9M629.2 564.2L629.2 564.2L629.2 564.1M630.6 541.5L630.6 541.2L630.6 540.2L630.7 539.2L630.8 538.2L630.8 537.2L630.9 536.2L630.9 535.2L631.0 534.2L631.1 533.2L631.1 532.2L631.2 531.2L631.2 530.2L631.3 529.2L631.4 528.2L631.4 527.2L631.5 526.2L631.5 525.2L631.6 524.2L631.7 523.2L631.7 522.2L631.8 521.2L631.9 520.2L631.9 519.2L632.0 518.2L632.0 517.2L632.1 516.2L632.1 515.4M633.5 493.3L633.5 493.3L633.5 493.2M635.0 470.0L635.0 469.3L635.1 468.3L635.1 467.3L635.2 466.3L635.3 465.3L635.3 464.3L635.4 463.3L635.5 462.3L635.5 461.3L635.6 460.3L635.6 459.4L635.7 458.4L635.8 457.4L635.8 456.4L635.9 455.4L636.0 454.4L636.0 453.4L636.1 452.4L636.1 451.4L636.2 450.4L636.3 449.4L636.3 448.4L636.4 447.4L636.4 446.4L636.5 445.4L636.6 444.4L636.6 443.4L636.6 443.2M638.0 420.5L638.0 420.4L638.0 420.4M639.3 397.1L639.3 396.5L639.4 395.5L639.4 394.5L639.5 393.5L639.5 392.5L639.6 391.5L639.6 390.5L639.7 389.5L639.7 388.5L639.8 387.5L639.8 386.5L639.9 385.5L639.9 384.5L640.0 383.5L640.0 382.5L640.1 381.5L640.1 380.5L640.1 379.5L640.2 378.5L640.2 377.5L640.3 376.5L640.3 375.5L640.4 374.5L640.4 373.5L640.5 372.5L640.5 371.5L640.6 370.5L640.6 370.3M641.5 347.6L641.5 347.5L641.5 347.5M642.2 324.5L642.2 323.5L642.2 322.5L642.2 321.5L642.3 320.5L642.3 319.5L642.3 318.5L642.3 317.5L642.4 316.5L642.4 315.5L642.4 314.5L642.4 313.5L642.4 312.5L642.5 311.5L642.5 310.5L642.5 309.5L642.5 308.5L642.5 307.5L642.5 306.5L642.6 305.5L642.6 304.5L642.6 303.5L642.6 302.5L642.6 301.5L642.6 300.5L642.6 299.5L642.7 298.5L642.7 298.0M643.0 275.6L643.0 275.5L643.0 275.5M643.7 252.6L643.7 252.5L643.7 251.5L643.7 250.5L643.8 249.5L643.8 248.5L643.9 247.5L643.9 246.5L644.0 245.5L644.0 244.5L644.1 243.5L644.1 242.5L644.2 241.5L644.3 240.5L644.3 239.6L644.4 238.6L644.4 237.6L644.5 236.6L644.6 235.6L644.6 234.6L644.7 233.6L644.8 232.6L644.9 231.6L644.9 230.6L645.0 229.6L645.1 228.6L645.2 227.6L645.2 226.6L645.3 226.2M647.7 203.8L647.7 203.7L647.7 203.7M651.1 182.0L651.1 182.0L651.3 181.0L651.5 180.0L651.6 179.0L651.8 178.1L652.0 177.1L652.3 176.1L652.5 175.1L652.7 174.2L653.0 173.2L653.3 172.2L653.7 171.3L654.1 170.4L654.6 169.5L655.2 168.8L656.1 168.3L657.1 168.2L658.0 168.6L658.9 169.1L659.7 169.7L660.4 170.4L661.1 171.1L661.8 171.8L662.4 172.6L663.0 173.4L663.7 174.2L664.2 175.0L664.8 175.8L665.4 176.6L665.5 176.7M676.7 197.7L676.7 197.7L676.7 197.8M683.9 220.8L684.1 221.6L684.3 222.6L684.6 223.5L684.8 224.5L685.0 225.5L685.2 226.5L685.4 227.4L685.7 228.4L685.9 229.4L686.1 230.4L686.3 231.3L686.5 232.3L686.7 233.3L686.9 234.3L687.1 235.3L687.3 236.2L687.5 237.2L687.6 238.2L687.8 239.2L688.0 240.2L688.2 241.2L688.3 242.1L688.5 243.1L688.7 244.1L688.9 245.1L689.0 246.1L689.2 247.1L689.2 247.3M692.2 269.8L692.2 269.9L692.2 269.9M694.1 293.2L694.2 293.8L694.2 294.8L694.3 295.8L694.3 296.8L694.4 297.8L694.5 298.8L694.5 299.8L694.6 300.8L694.6 301.8L694.7 302.8L694.7 303.8L694.8 304.8L694.8 305.8L694.9 306.8L694.9 307.8L695.0 308.8L695.0 309.8L695.1 310.8L695.1 311.8L695.2 312.8L695.2 313.8L695.3 314.8L695.3 315.8L695.3 316.8L695.4 317.8L695.4 318.8L695.5 319.8L695.5 320.0M696.3 342.7L696.3 342.7L696.3 342.8M697.1 365.8L697.1 366.7L697.2 367.7L697.2 368.7L697.2 369.7L697.3 370.7L697.3 371.7L697.3 372.7L697.4 373.7L697.4 374.7L697.4 375.7L697.5 376.7L697.5 377.7L697.5 378.7L697.6 379.7L697.6 380.7L697.7 381.7L697.7 382.7L697.7 383.7L697.8 384.7L697.8 385.7L697.8 386.7L697.9 387.7L697.9 388.7L698.0 389.7L698.0 390.7L698.0 391.7L698.0 392.2M698.9 414.7L698.9 414.7L698.9 414.8M699.8 437.7L699.9 438.7L699.9 439.7L700.0 440.7L700.0 441.7L700.0 442.7L700.1 443.7L700.1 444.7L700.2 445.7L700.2 446.7L700.3 447.7L700.3 448.7L700.3 449.7L700.4 450.7L700.4 451.7L700.5 452.7L700.5 453.7L700.6 454.7L700.6 455.7L700.6 456.7L700.7 457.7L700.7 458.7L700.8 459.7L700.8 460.7L700.9 461.7L700.9 462.7L700.9 463.7L701.0 464.1M702.0 486.6L702.0 486.6L702.0 486.7M703.1 509.9L703.1 510.6L703.2 511.6L703.2 512.6L703.3 513.6L703.3 514.6L703.4 515.6L703.4 516.6L703.5 517.6L703.5 518.6L703.6 519.6L703.6 520.6L703.7 521.6L703.7 522.6L703.8 523.6L703.8 524.6L703.9 525.6L703.9 526.6L704.0 527.6L704.0 528.6L704.1 529.6L704.1 530.6L704.2 531.6L704.2 532.6L704.3 533.6L704.3 534.6L704.4 535.6L704.4 536.6L704.4 536.7M705.6 559.5L705.6 559.5L705.6 559.6M706.9 582.5L707.0 583.5L707.0 584.5L707.1 585.5L707.2 586.5L707.2 587.5L707.3 588.5L707.3 589.5L707.4 590.5L707.5 591.5L707.5 592.5L707.6 593.5L707.6 594.5L707.7 595.5L707.7 596.5L707.8 597.5L707.9 598.5L707.9 599.5L708.0 600.5L708.0 601.5L708.1 602.5L708.2 603.5L708.2 604.5L708.3 605.5L708.3 606.5L708.4 607.5L708.5 608.5L708.5 608.9M709.9 631.4L709.9 631.4L709.9 631.5M711.4 654.4L711.5 655.4L711.6 656.4L711.6 657.4L711.7 658.4L711.8 659.4L711.8 660.4L711.9 661.3L712.0 662.3L712.0 663.3L712.1 664.3L712.2 665.3L712.3 666.3L712.3 667.3L712.4 668.3L712.5 669.3L712.5 670.3L712.6 671.3L712.7 672.3L712.7 673.3L712.8 674.3L712.9 675.3L713.0 676.3L713.0 677.3L713.1 678.3L713.2 679.3L713.2 680.3L713.3 680.8M714.9 703.2L714.9 703.2L714.9 703.3M716.8 726.5L716.8 727.2L716.9 728.2L717.0 729.2L717.1 730.2L717.1 731.2L717.2 732.2L717.3 733.1L717.4 734.1L717.5 735.1L717.5 736.1L717.6 737.1L717.7 738.1L717.8 739.1L717.9 740.1L718.0 741.1L718.0 742.1L718.1 743.1L718.2 744.1L718.3 745.1L718.4 746.1L718.5 747.1L718.5 748.1L718.6 749.1L718.7 750.1L718.8 751.1L718.9 752.1L719.0 753.1L719.0 753.2M721.0 775.9L721.0 776.0L721.0 776.0M723.2 799.2L723.2 799.9L723.3 800.9L723.4 801.9L723.5 802.9L723.6 803.9L723.7 804.9L723.8 805.9L723.9 806.9L724.0 807.8L724.1 808.8L724.2 809.8L724.3 810.8L724.4 811.8L724.5 812.8L724.6 813.8L724.7 814.8L724.8 815.8L724.9 816.8L725.0 817.8L725.1 818.8L725.2 819.8L725.3 820.8L725.4 821.8L725.5 822.8L725.6 823.8L725.7 824.8L725.8 825.8L725.8 825.9M728.2 848.6L728.2 848.6L728.2 848.7M730.8 871.8L730.9 872.5L731.0 873.5L731.2 874.5L731.3 875.5L731.4 876.4L731.5 877.4L731.6 878.4L731.7 879.4L731.9 880.4L732.0 881.4L732.1 882.4L732.2 883.4L732.3 884.4L732.4 885.4L732.6 886.4L732.7 887.4L732.8 888.4L732.9 889.4L733.0 890.4L733.2 891.3L733.3 892.3L733.4 893.3L733.5 894.3L733.6 895.3L733.8 896.3L733.9 897.3L734.0 898.3L734.0 898.4M736.9 921.1L736.9 921.1L736.9 921.2M740.0 943.9L740.0 943.9L740.1 944.9L740.3 945.9L740.4 946.9L740.5 947.9L740.7 948.9L740.8 949.8L741.0 950.8L741.1 951.8L741.2 952.8L741.4 953.8L741.5 954.8L741.7 955.8L741.8 956.8L741.9 957.8L742.1 958.8L742.2 959.7L742.4 960.7L742.5 961.7L742.6 962.7L742.8 963.7L742.9 964.7L743.1 965.7L743.2 966.7L743.4 967.7L743.5 968.7L743.7 969.6L743.7 970.1M747.1 992.3L747.1 992.4L747.1 992.4M750.7 1015.7L750.8 1016.1L750.9 1017.1L751.1 1018.1L751.2 1019.1L751.4 1020.1L751.5 1021.0L751.7 1022.0L751.9 1023.0L752.0 1024.0L752.2 1025.0L752.3 1026.0L752.5 1027.0L752.6 1028.0L752.8 1028.9L753.0 1029.9L753.1 1030.9L753.3 1031.9L753.4 1032.9L753.6 1033.9L753.8 1034.9L753.9 1035.9L754.1 1036.8L754.2 1037.8L754.4 1038.8L754.5 1039.8L754.7 1040.8L754.9 1041.8L755.0 1042.6M758.7 1065.4L758.7 1065.5L758.7 1065.5M762.4 1088.5L762.5 1089.2L762.7 1090.1L762.9 1091.1L763.0 1092.1L763.2 1093.1L763.3 1094.1L763.5 1095.1L763.7 1096.1L763.8 1097.1L764.0 1098.0L764.1 1099.0L764.3 1100.0L764.5 1101.0L764.6 1102.0L764.8 1103.0L764.9 1104.0L765.1 1105.0L765.3 1105.9L765.4 1106.9L765.6 1107.9L765.7 1108.9L765.9 1109.9L766.0 1110.9L766.2 1111.9L766.4 1112.9L766.5 1113.8L766.7 1114.8L766.7 1115.0M770.2 1137.5L770.2 1137.5L770.3 1137.6M773.9 1160.8L774.0 1161.3L774.2 1162.2L774.3 1163.2L774.5 1164.2L774.6 1165.2L774.8 1166.2L775.0 1167.2L775.2 1168.2L775.3 1169.1L775.5 1170.1L775.7 1171.1L775.8 1172.1L776.0 1173.1L776.2 1174.1L776.4 1175.0L776.6 1176.0L776.8 1177.0L776.9 1178.0L777.1 1179.0L777.3 1180.0L777.5 1180.9L777.7 1181.9L777.9 1182.9L778.1 1183.9L778.3 1184.9L778.5 1185.8L778.7 1186.8L778.8 1187.4M784.4 1210.1L784.4 1210.1L784.4 1210.2M791.9 1232.7L792.0 1232.9L792.3 1233.8L792.7 1234.8L793.1 1235.7L793.4 1236.6L793.8 1237.5L794.2 1238.5L794.6 1239.4L795.0 1240.3L795.4 1241.2L795.8 1242.1L796.2 1243.0L796.6 1243.9L797.0 1244.9L797.5 1245.8L797.9 1246.7L798.3 1247.6L798.8 1248.5L799.2 1249.4L799.6 1250.3L800.1 1251.2L800.5 1252.1L801.0 1252.9L801.5 1253.8L801.9 1254.7L802.4 1255.6L802.9 1256.5L803.4 1257.4L803.8 1258.2L804.1 1258.7M818.6 1280.7L818.6 1280.8L818.7 1280.8M838.3 1301.3L838.7 1301.6L839.5 1302.2L840.3 1302.7L841.2 1303.3L842.0 1303.8L842.9 1304.3L843.8 1304.7L844.7 1305.2L845.6 1305.6L846.5 1306.0L847.5 1306.3L848.4 1306.6L849.4 1306.9L850.3 1307.2L851.3 1307.3L852.3 1307.5L853.3 1307.6L854.3 1307.6L855.3 1307.6L856.3 1307.6L857.3 1307.5L858.3 1307.3L859.3 1307.1L860.2 1306.9L861.2 1306.6L862.1 1306.3L863.1 1305.9L863.4 1305.8M884.5 1289.9L884.5 1289.8L884.6 1289.8M903.0 1268.2L903.4 1267.8L903.9 1267.0L904.5 1266.2L905.1 1265.4L905.7 1264.5L906.3 1263.7L906.8 1262.9L907.4 1262.1L908.0 1261.3L908.5 1260.4L909.1 1259.6L909.6 1258.8L910.2 1257.9L910.7 1257.1L911.3 1256.3L911.8 1255.4L912.3 1254.6L912.9 1253.7L913.4 1252.9L913.9 1252.0L914.4 1251.2L915.0 1250.3L915.5 1249.4L916.0 1248.6L916.5 1247.7L917.0 1246.9L917.5 1246.0L918.0 1245.1L918.5 1244.2L919.0 1243.4L919.0 1243.3M929.7 1222.0L929.7 1221.9L929.7 1221.9M939.4 1198.5L939.6 1197.9L940.0 1197.0L940.3 1196.0L940.7 1195.1L941.0 1194.2L941.4 1193.2L941.7 1192.3L942.1 1191.3L942.4 1190.4L942.8 1189.5L943.1 1188.5L943.4 1187.6L943.8 1186.6L944.1 1185.7L944.4 1184.7L944.8 1183.8L945.1 1182.9L945.4 1181.9L945.8 1181.0L946.1 1180.0L946.4 1179.1L946.7 1178.1L947.1 1177.2L947.4 1176.2L947.7 1175.3L948.0 1174.4L948.4 1173.4L948.7 1172.5L949.0 1171.6M956.5 1148.8L956.5 1148.7L956.5 1148.7M964.0 1125.6L964.3 1124.9L964.6 1124.0L964.9 1123.0L965.2 1122.1L965.5 1121.1L965.8 1120.2L966.1 1119.2L966.4 1118.3L966.8 1117.3L967.1 1116.4L967.4 1115.4L967.7 1114.5L968.0 1113.6L968.3 1112.6L968.6 1111.7L969.0 1110.7L969.3 1109.8L969.6 1108.8L969.9 1107.9L970.2 1106.9L970.5 1106.0L970.8 1105.0L971.2 1104.1L971.5 1103.1L971.8 1102.2L972.1 1101.2L972.4 1100.3L972.7 1099.3L972.8 1099.1M980.3 1076.6L980.4 1076.6L980.4 1076.5M988.3 1053.3L988.5 1052.9L988.8 1052.0L989.1 1051.0L989.4 1050.1L989.8 1049.1L990.1 1048.2L990.4 1047.2L990.8 1046.3L991.1 1045.3L991.4 1044.4L991.8 1043.5L992.1 1042.5L992.4 1041.6L992.7 1040.6L993.1 1039.7L993.4 1038.7L993.7 1037.8L994.1 1036.9L994.4 1035.9L994.7 1035.0L995.1 1034.0L995.4 1033.1L995.7 1032.1L996.1 1031.2L996.4 1030.3L996.8 1029.3L997.1 1028.4L997.4 1027.4L997.7 1026.7M1006.0 1004.0L1006.0 1003.9L1006.0 1003.9M1014.8 980.8L1014.8 980.6L1015.2 979.6L1015.6 978.7L1015.9 977.8L1016.3 976.8L1016.7 975.9L1017.0 975.0L1017.4 974.0L1017.7 973.1L1018.1 972.2L1018.5 971.3L1018.8 970.3L1019.2 969.4L1019.6 968.5L1019.9 967.5L1020.3 966.6L1020.7 965.7L1021.1 964.7L1021.4 963.8L1021.8 962.9L1022.2 962.0L1022.5 961.0L1022.9 960.1L1023.3 959.2L1023.7 958.2L1024.0 957.3L1024.4 956.4L1024.8 955.5L1025.2 954.5L1025.3 954.1M1034.8 931.5L1034.8 931.5L1034.8 931.4M1045.0 908.4L1045.3 907.7L1045.7 906.8L1046.1 905.9L1046.6 905.0L1047.0 904.1L1047.4 903.1L1047.8 902.2L1048.2 901.3L1048.6 900.4L1049.1 899.5L1049.5 898.6L1049.9 897.7L1050.3 896.8L1050.8 895.9L1051.2 895.0L1051.6 894.1L1052.0 893.2L1052.5 892.3L1052.9 891.4L1053.3 890.5L1053.8 889.6L1054.2 888.7L1054.6 887.8L1055.1 886.9L1055.5 886.0L1055.9 885.1L1056.4 884.2L1056.8 883.3L1057.2 882.4L1057.5 881.8M1069.0 859.2L1069.0 859.2L1069.0 859.1M1081.4 836.3L1081.9 835.5L1082.4 834.6L1082.9 833.7L1083.4 832.9L1083.9 832.0L1084.4 831.1L1084.9 830.3L1085.4 829.4L1085.9 828.5L1086.4 827.7L1086.9 826.8L1087.4 825.9L1087.9 825.1L1088.4 824.2L1088.9 823.4L1089.5 822.5L1090.0 821.6L1090.5 820.8L1091.0 819.9L1091.5 819.1L1092.0 818.2L1092.5 817.4L1093.1 816.5L1093.6 815.6L1094.1 814.8L1094.6 813.9L1095.1 813.1L1095.7 812.2L1096.2 811.4L1096.7 810.5L1097.0 810.1M1111.2 787.8L1111.2 787.8L1111.3 787.7M1127.4 764.5L1127.8 764.0L1128.4 763.2L1129.0 762.4L1129.6 761.6L1130.2 760.8L1130.8 760.0L1131.4 759.2L1132.0 758.4L1132.6 757.6L1133.2 756.8L1133.8 756.0L1134.5 755.2L1135.1 754.4L1135.7 753.6L1136.3 752.9L1136.9 752.1L1137.6 751.3L1138.2 750.5L1138.8 749.7L1139.5 749.0L1140.1 748.2L1140.7 747.4L1141.4 746.7L1142.0 745.9L1142.7 745.1L1143.3 744.4L1144.0 743.6L1144.6 742.8L1145.3 742.1L1145.9 741.3L1146.6 740.6L1147.2 739.8L1147.9 739.1L1148.6 738.3L1149.2 737.7M1171.6 716.2L1171.6 716.2L1171.7 716.2M1195.1 700.6L1195.8 700.2L1196.7 699.8L1197.6 699.3L1198.5 698.9L1199.4 698.4L1200.3 698.0L1201.2 697.6L1202.1 697.2L1203.0 696.8L1203.9 696.4L1204.8 696.0L1205.8 695.7L1206.7 695.3L1207.6 695.0L1208.6 694.6L1209.5 694.3L1210.5 693.9L1211.4 693.6L1212.4 693.3L1213.3 693.0L1214.3 692.7L1215.2 692.5L1216.2 692.2L1217.2 691.9L1218.1 691.7L1219.1 691.4L1220.1 691.2L1221.1 691.0L1222.0 690.8M1244.8 688.2L1244.8 688.2L1244.9 688.2M1268.1 690.0L1268.7 690.1L1269.7 690.3L1270.7 690.5L1271.7 690.6L1272.7 690.8L1273.6 691.1L1274.6 691.3L1275.6 691.5L1276.6 691.7L1277.5 692.0L1278.5 692.2L1279.5 692.5L1280.4 692.7L1281.4 693.0L1282.4 693.3L1283.3 693.5L1284.3 693.8L1285.2 694.1L1286.2 694.4L1287.1 694.7L1288.1 695.0L1289.0 695.4L1290.0 695.7L1290.9 696.0L1291.9 696.4L1292.8 696.7L1293.7 697.1L1294.7 697.5L1294.9 697.6M1317.6 709.4L1317.7 709.4L1317.7 709.5M1339.8 727.5L1340.1 727.7L1340.8 728.4L1341.5 729.1L1342.2 729.9L1342.9 730.6L1343.6 731.3L1344.3 732.0L1345.0 732.7L1345.7 733.4L1346.4 734.2L1347.1 734.9L1347.8 735.6L1348.5 736.4L1349.1 737.1L1349.8 737.9L1350.5 738.6L1351.1 739.3L1351.8 740.1L1352.5 740.8L1353.1 741.6L1353.8 742.4L1354.4 743.1L1355.1 743.9L1355.7 744.6L1356.4 745.4L1357.0 746.2L1357.6 746.9L1358.3 747.7L1358.9 748.5L1359.6 749.2L1360.2 750.0L1360.8 750.8L1361.4 751.6L1362.1 752.4L1362.5 752.9M1379.1 774.5L1379.2 774.5L1379.2 774.6M1396.6 797.5L1396.7 797.6L1397.3 798.4L1397.9 799.2L1398.5 800.0L1399.1 800.8L1399.7 801.6L1400.3 802.4L1400.9 803.2L1401.5 804.0L1402.1 804.8L1402.7 805.6L1403.3 806.4L1403.9 807.2L1404.5 808.0L1405.1 808.8L1405.7 809.6L1406.3 810.4L1406.9 811.2L1407.5 812.0L1408.1 812.8L1408.7 813.6L1409.3 814.4L1409.9 815.2L1410.5 816.0L1411.1 816.8L1411.7 817.6L1412.3 818.4L1412.9 819.2L1413.5 820.0L1414.1 820.8L1414.7 821.6L1415.3 822.4L1415.9 823.2L1416.5 824.0M1433.2 846.4L1433.2 846.5L1433.3 846.5M1449.6 869.0L1449.7 869.1L1450.3 869.9L1450.8 870.8L1451.4 871.6L1452.0 872.4L1452.6 873.2L1453.2 874.0L1453.7 874.8L1454.3 875.7L1454.9 876.5L1455.5 877.3L1456.0 878.1L1456.6 878.9L1457.2 879.7L1457.8 880.6L1458.3 881.4L1458.9 882.2L1459.5 883.0L1460.1 883.8L1460.6 884.7L1461.2 885.5L1461.8 886.3L1462.3 887.1L1462.9 887.9L1463.5 888.8L1464.0 889.6L1464.6 890.4L1465.2 891.2L1465.7 892.1L1466.3 892.9L1466.9 893.7L1467.4 894.5L1467.7 894.9M1482.5 916.9L1482.5 916.9L1482.6 917.0M1498.0 940.5L1498.4 941.2L1499.0 942.0L1499.5 942.9L1500.1 943.7L1500.6 944.5L1501.2 945.4L1501.7 946.2L1502.3 947.0L1502.8 947.9L1503.3 948.7L1503.9 949.6L1504.4 950.4L1505.0 951.2L1505.5 952.1L1506.1 952.9L1506.6 953.8L1507.1 954.6L1507.7 955.4L1508.2 956.3L1508.8 957.1L1509.3 958.0L1509.9 958.8L1510.4 959.6L1510.9 960.5L1511.5 961.3L1512.0 962.2L1512.6 963.0L1513.1 963.8L1513.7 964.7L1514.2 965.5L1514.7 966.4L1515.3 967.2L1515.6 967.6M1530.4 990.7L1530.5 990.7L1530.5 990.8M1545.5 1013.9L1545.7 1014.2L1546.3 1015.0L1546.8 1015.9L1547.4 1016.7L1547.9 1017.5L1548.5 1018.4L1549.0 1019.2L1549.6 1020.0L1550.1 1020.9L1550.7 1021.7L1551.2 1022.6L1551.8 1023.4L1552.3 1024.2L1552.9 1025.1L1553.4 1025.9L1554.0 1026.7L1554.5 1027.6L1555.1 1028.4L1555.6 1029.2L1556.2 1030.1L1556.8 1030.9L1557.3 1031.7L1557.9 1032.6L1558.4 1033.4L1559.0 1034.2L1559.5 1035.0L1560.1 1035.9L1560.6 1036.7L1561.2 1037.5L1561.8 1038.4L1562.3 1039.2L1562.9 1040.0L1563.2 1040.5M1578.7 1063.1L1578.7 1063.1L1578.7 1063.2M1595.2 1086.3L1595.5 1086.7L1596.1 1087.5L1596.7 1088.4L1597.3 1089.2L1597.9 1090.0L1598.5 1090.8L1599.1 1091.6L1599.7 1092.4L1600.3 1093.2L1600.9 1094.0L1601.5 1094.8L1602.1 1095.6L1602.7 1096.4L1603.3 1097.2L1603.9 1098.0L1604.5 1098.8L1605.1 1099.6L1605.7 1100.4L1606.3 1101.2L1606.9 1102.0L1607.5 1102.8L1608.1 1103.6L1608.7 1104.4L1609.3 1105.2L1609.9 1106.0L1610.5 1106.8L1611.1 1107.6L1611.7 1108.3L1612.3 1109.1L1612.9 1109.9L1613.6 1110.7L1614.2 1111.5L1614.8 1112.3L1615.3 1113.0M1633.5 1135.6L1633.6 1135.7L1633.6 1135.7M1652.5 1157.5L1652.6 1157.6L1653.2 1158.3L1653.9 1159.1L1654.6 1159.8L1655.2 1160.6L1655.9 1161.3L1656.6 1162.1L1657.3 1162.8L1657.9 1163.5L1658.6 1164.3L1659.3 1165.0L1660.0 1165.7L1660.6 1166.5L1661.3 1167.2L1662.0 1167.9L1662.7 1168.7L1663.4 1169.4L1664.1 1170.1L1664.7 1170.9L1665.4 1171.6L1666.1 1172.3L1666.8 1173.0L1667.5 1173.8L1668.2 1174.5L1668.9 1175.2L1669.6 1175.9L1670.2 1176.7L1670.9 1177.4L1671.6 1178.1L1672.3 1178.8L1673.0 1179.5L1673.7 1180.3L1674.4 1181.0L1675.1 1181.7L1675.8 1182.4L1676.0 1182.6M1697.1 1203.4L1697.2 1203.4L1697.2 1203.5M1719.5 1223.7L1720.1 1224.3L1720.9 1224.9L1721.6 1225.6L1722.4 1226.3L1723.2 1226.9L1723.9 1227.6L1724.7 1228.2L1725.4 1228.9L1726.2 1229.5L1727.0 1230.2L1727.7 1230.8L1728.5 1231.5L1729.2 1232.1L1730.0 1232.7L1730.8 1233.4L1731.5 1234.0L1732.3 1234.7L1733.1 1235.3L1733.9 1236.0L1734.6 1236.6L1735.4 1237.2L1736.2 1237.9L1736.9 1238.5L1737.7 1239.1L1738.5 1239.8L1739.3 1240.4L1740.0 1241.0L1740.8 1241.7L1741.6 1242.3L1742.4 1242.9L1743.1 1243.5L1743.9 1244.2L1744.7 1244.8L1745.1 1245.1M1766.9 1261.8L1766.9 1261.8L1767.0 1261.9M1790.0 1278.1L1790.6 1278.5L1791.4 1279.1L1792.3 1279.7L1793.1 1280.2L1793.9 1280.8L1794.8 1281.3L1795.6 1281.9L1796.4 1282.4L1797.3 1283.0L1798.1 1283.5L1798.9 1284.1L1799.8 1284.6L1800.6 1285.2L1801.5 1285.7L1802.3 1286.3L1803.1 1286.8L1804.0 1287.3L1804.8 1287.9L1805.7 1288.4L1806.5 1289.0L1807.4 1289.5L1808.2 1290.0L1809.0 1290.6L1809.9 1291.1L1810.7 1291.6L1811.6 1292.1L1812.4 1292.7L1813.3 1293.2L1814.1 1293.7L1815.0 1294.3L1815.8 1294.8L1816.6 1295.2M1839.1 1308.4L1839.1 1308.4L1839.2 1308.4M1862.2 1320.7L1863.0 1321.1L1863.9 1321.5L1864.8 1322.0L1865.7 1322.4L1866.6 1322.9L1867.5 1323.3L1868.4 1323.8L1869.2 1324.2L1870.1 1324.7L1871.0 1325.1L1871.9 1325.5L1872.8 1326.0L1873.7 1326.4L1874.6 1326.8L1875.5 1327.3L1876.4 1327.7L1877.4 1328.1L1878.3 1328.6L1879.2 1329.0L1880.1 1329.4L1881.0 1329.8L1881.9 1330.3L1882.8 1330.7L1883.7 1331.1L1884.6 1331.5L1885.5 1331.9L1886.4 1332.3L1887.3 1332.8L1888.2 1333.2L1888.7 1333.4M1911.2 1343.0L1911.2 1343.0L1911.3 1343.0M1934.3 1351.8L1934.6 1351.9L1935.5 1352.2L1936.5 1352.5L1937.4 1352.9L1938.4 1353.2L1939.3 1353.5L1940.3 1353.9L1941.2 1354.2L1942.1 1354.5L1943.1 1354.8L1944.0 1355.2L1945.0 1355.5L1945.9 1355.8L1946.9 1356.1L1947.8 1356.4L1948.8 1356.7L1949.7 1357.1L1950.7 1357.4L1951.6 1357.7L1952.6 1358.0L1953.5 1358.3L1954.5 1358.6L1955.4 1358.9L1956.4 1359.2L1957.4 1359.5L1958.3 1359.8L1959.3 1360.1L1960.2 1360.4L1960.7 1360.5M1983.2 1367.0L1983.3 1367.0L1983.3 1367.0M2006.4 1372.8L2006.6 1372.9L2007.5 1373.1L2008.5 1373.3L2009.5 1373.6L2010.4 1373.8L2011.4 1374.0L2012.4 1374.2L2013.4 1374.5L2014.3 1374.7L2015.3 1374.9L2016.3 1375.1L2017.3 1375.3L2018.3 1375.5L2019.2 1375.8L2020.2 1376.0L2021.2 1376.2L2022.2 1376.4L2023.1 1376.6L2024.1 1376.8L2025.1 1377.0L2026.1 1377.2L2027.1 1377.4L2028.0 1377.6L2029.0 1377.9L2030.0 1378.1L2031.0 1378.3L2031.9 1378.5L2032.9 1378.7M2055.5 1383.0L2055.5 1383.0L2055.6 1383.0M2078.6 1386.9L2079.2 1387.0L2080.2 1387.2L2081.2 1387.3L2082.1 1387.5L2083.1 1387.6L2084.1 1387.8L2085.1 1387.9L2086.1 1388.1L2087.1 1388.2L2088.1 1388.4L2089.1 1388.5L2090.0 1388.7L2091.0 1388.8L2092.0 1389.0L2093.0 1389.1L2094.0 1389.3L2095.0 1389.4L2096.0 1389.6L2097.0 1389.7L2098.0 1389.9L2098.9 1390.0L2099.9 1390.2L2100.9 1390.3L2101.9 1390.5L2102.9 1390.6L2103.9 1390.7L2104.9 1390.9L2105.1 1390.9M2127.6 1394.0L2127.7 1394.0L2127.7 1394.0M2150.5 1396.8L2151.5 1397.0L2152.5 1397.1L2153.5 1397.2L2154.5 1397.3L2155.5 1397.4L2156.5 1397.5L2157.4 1397.7L2158.4 1397.8L2159.4 1397.9L2160.4 1398.0L2161.4 1398.1L2162.4 1398.3L2163.4 1398.4L2164.4 1398.5L2165.4 1398.6L2166.4 1398.7L2167.4 1398.8L2168.4 1399.0L2169.4 1399.1L2170.4 1399.2L2171.4 1399.3L2172.3 1399.4L2173.3 1399.5L2174.3 1399.6L2175.3 1399.8L2176.3 1399.9L2176.8 1399.9M2199.1 1402.5L2199.2 1402.5L2199.2 1402.5" fill="none" stroke="#ff0000" stroke-width="12" stroke-linecap="round" stroke-linejoin="round"/></g><path d="M1650.5 142.5H1818" stroke="#00ff00" stroke-width="12" stroke-linecap="round" fill="none" stroke-dasharray="13.6 27.3"/><text filter="url(#bin)" x="1839" y="169.0" font-family="Liberation Serif, serif" font-weight="bold" font-size="90">0.0 wt%</text><path d="M1650.5 259.8H1818" stroke="#0000ff" stroke-width="12" stroke-linecap="round" fill="none"/><text filter="url(#bin)" x="1839" y="286.3" font-family="Liberation Serif, serif" font-weight="bold" font-size="90">0.5 wt%</text><path d="M1650.5 377.2H1818" stroke="#000000" stroke-width="12" stroke-linecap="round" fill="none" stroke-dasharray="33.2 30.8 5.5 30.6 5.5 31.1"/><text filter="url(#bin)" x="1839" y="403.7" font-family="Liberation Serif, serif" font-weight="bold" font-size="90">1.0 wt%</text><path d="M1650.5 494.5H1818" stroke="#ff0000" stroke-width="12" stroke-linecap="round" fill="none" stroke-dasharray="26.5 22.5 0.1 23.0"/><text filter="url(#bin)" x="1839" y="521.0" font-family="Liberation Serif, serif" font-weight="bold" font-size="90">1.5 wt%</text></svg></body></html>
